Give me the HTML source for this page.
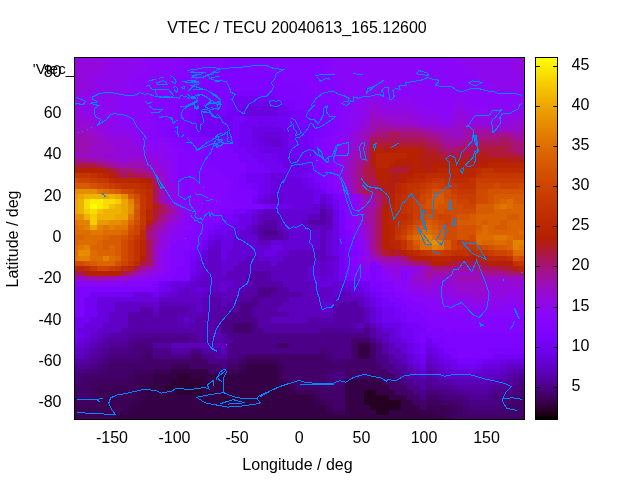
<!DOCTYPE html>
<html><head><meta charset="utf-8"><style>
html,body{margin:0;padding:0;background:#fff;width:640px;height:480px;overflow:hidden}
svg{display:block}
text{font-family:"Liberation Sans",sans-serif;font-size:16px;fill:#000}
svg{will-change:transform}
</style></head><body>
<svg width="640" height="480" viewBox="0 0 640 480">
<defs><linearGradient id="cb" x1="0" y1="1" x2="0" y2="0"><stop offset="0.00" stop-color="#000000"/><stop offset="0.01" stop-color="#1a0010"/><stop offset="0.02" stop-color="#240020"/><stop offset="0.03" stop-color="#2c0030"/><stop offset="0.04" stop-color="#33003f"/><stop offset="0.05" stop-color="#39004f"/><stop offset="0.06" stop-color="#3e005e"/><stop offset="0.07" stop-color="#43006d"/><stop offset="0.08" stop-color="#48007b"/><stop offset="0.09" stop-color="#4d0089"/><stop offset="0.10" stop-color="#510096"/><stop offset="0.11" stop-color="#5500a3"/><stop offset="0.12" stop-color="#5800af"/><stop offset="0.13" stop-color="#5c01ba"/><stop offset="0.14" stop-color="#5f01c4"/><stop offset="0.15" stop-color="#6301ce"/><stop offset="0.16" stop-color="#6601d7"/><stop offset="0.17" stop-color="#6901df"/><stop offset="0.18" stop-color="#6c01e7"/><stop offset="0.19" stop-color="#6f02ed"/><stop offset="0.20" stop-color="#7202f3"/><stop offset="0.21" stop-color="#7502f7"/><stop offset="0.22" stop-color="#7803fa"/><stop offset="0.23" stop-color="#7a03fd"/><stop offset="0.24" stop-color="#7d04fe"/><stop offset="0.25" stop-color="#8004ff"/><stop offset="0.26" stop-color="#8204fe"/><stop offset="0.27" stop-color="#8505fd"/><stop offset="0.28" stop-color="#8706fa"/><stop offset="0.29" stop-color="#8906f7"/><stop offset="0.30" stop-color="#8c07f3"/><stop offset="0.31" stop-color="#8e08ed"/><stop offset="0.32" stop-color="#9008e7"/><stop offset="0.33" stop-color="#9209df"/><stop offset="0.34" stop-color="#950ad7"/><stop offset="0.35" stop-color="#970bce"/><stop offset="0.36" stop-color="#990cc4"/><stop offset="0.37" stop-color="#9b0dba"/><stop offset="0.38" stop-color="#9d0eaf"/><stop offset="0.39" stop-color="#9f0fa3"/><stop offset="0.40" stop-color="#a11096"/><stop offset="0.41" stop-color="#a31289"/><stop offset="0.42" stop-color="#a5137b"/><stop offset="0.43" stop-color="#a7146d"/><stop offset="0.44" stop-color="#a9165e"/><stop offset="0.45" stop-color="#ab174f"/><stop offset="0.46" stop-color="#ad193f"/><stop offset="0.47" stop-color="#af1a30"/><stop offset="0.48" stop-color="#b11c20"/><stop offset="0.49" stop-color="#b31e10"/><stop offset="0.50" stop-color="#b42000"/><stop offset="0.51" stop-color="#b62200"/><stop offset="0.52" stop-color="#b82400"/><stop offset="0.53" stop-color="#ba2600"/><stop offset="0.54" stop-color="#bb2800"/><stop offset="0.55" stop-color="#bd2a00"/><stop offset="0.56" stop-color="#bf2d00"/><stop offset="0.57" stop-color="#c12f00"/><stop offset="0.58" stop-color="#c23200"/><stop offset="0.59" stop-color="#c43400"/><stop offset="0.60" stop-color="#c63700"/><stop offset="0.61" stop-color="#c73a00"/><stop offset="0.62" stop-color="#c93d00"/><stop offset="0.63" stop-color="#ca4000"/><stop offset="0.64" stop-color="#cc4300"/><stop offset="0.65" stop-color="#ce4600"/><stop offset="0.66" stop-color="#cf4900"/><stop offset="0.67" stop-color="#d14d00"/><stop offset="0.68" stop-color="#d25000"/><stop offset="0.69" stop-color="#d45400"/><stop offset="0.70" stop-color="#d55700"/><stop offset="0.71" stop-color="#d75b00"/><stop offset="0.72" stop-color="#d85f00"/><stop offset="0.73" stop-color="#da6300"/><stop offset="0.74" stop-color="#db6700"/><stop offset="0.75" stop-color="#dd6c00"/><stop offset="0.76" stop-color="#de7000"/><stop offset="0.77" stop-color="#e07400"/><stop offset="0.78" stop-color="#e17900"/><stop offset="0.79" stop-color="#e37e00"/><stop offset="0.80" stop-color="#e48300"/><stop offset="0.81" stop-color="#e68800"/><stop offset="0.82" stop-color="#e78d00"/><stop offset="0.83" stop-color="#e89200"/><stop offset="0.84" stop-color="#ea9700"/><stop offset="0.85" stop-color="#eb9d00"/><stop offset="0.86" stop-color="#eca200"/><stop offset="0.87" stop-color="#eea800"/><stop offset="0.88" stop-color="#efae00"/><stop offset="0.89" stop-color="#f1b400"/><stop offset="0.90" stop-color="#f2ba00"/><stop offset="0.91" stop-color="#f3c000"/><stop offset="0.92" stop-color="#f5c700"/><stop offset="0.93" stop-color="#f6cd00"/><stop offset="0.94" stop-color="#f7d400"/><stop offset="0.95" stop-color="#f9db00"/><stop offset="0.96" stop-color="#fae200"/><stop offset="0.97" stop-color="#fbe900"/><stop offset="0.98" stop-color="#fcf000"/><stop offset="0.99" stop-color="#fef700"/><stop offset="1.00" stop-color="#ffff00"/></linearGradient></defs>
<rect x="0" y="0" width="640" height="480" fill="#fff"/>
<text x="297" y="32.5" text-anchor="middle">VTEC / TECU 20040613_165.12600</text>
<g text-anchor="end">
<text x="61.5" y="76.7">80</text>
<text x="61.5" y="118">60</text>
<text x="61.5" y="159.4">40</text>
<text x="61.5" y="200.7">20</text>
<text x="61.5" y="242">0</text>
<text x="61.5" y="283.3">-20</text>
<text x="61.5" y="324.6">-40</text>
<text x="61.5" y="366">-60</text>
<text x="61.5" y="407.3">-80</text>
</g>
<g text-anchor="middle">
<text x="112" y="442.5">-150</text>
<text x="174.5" y="442.5">-100</text>
<text x="237" y="442.5">-50</text>
<text x="299.25" y="442.5">0</text>
<text x="361.5" y="442.5">50</text>
<text x="424" y="442.5">100</text>
<text x="486.5" y="442.5">150</text>
</g>
<text x="297.5" y="470" text-anchor="middle">Longitude / deg</text>
<text transform="translate(17.5,239) rotate(-90)" text-anchor="middle">Latitude / deg</text>
<text x="74" y="74" text-anchor="end" style="font-size:15px">'Vtec_</text>
<g shape-rendering="crispEdges">
<path fill="#9309dd" d="M75 58h3v2h-3zM78 58h6v2h-6zM84 58h6v2h-6zM90 58h7v2h-7zM97 58h6v2h-6zM519 58h5v2h-5zM75 60h3v5h-3zM78 60h6v5h-6zM84 60h6v5h-6zM90 60h7v5h-7zM97 60h6v5h-6zM519 60h5v5h-5zM75 65h3v5h-3zM78 65h6v5h-6zM84 65h6v5h-6zM90 65h7v5h-7zM97 65h6v5h-6zM519 65h5v5h-5zM75 70h3v5h-3zM78 70h6v5h-6zM84 70h6v5h-6zM90 70h7v5h-7zM75 75h3v5h-3zM78 75h6v5h-6zM84 75h6v5h-6zM75 80h3v6h-3zM78 80h6v6h-6zM84 80h6v6h-6zM75 86h3v5h-3zM78 86h6v5h-6zM84 86h6v5h-6zM75 91h3v5h-3zM75 96h3v5h-3zM75 101h3v5h-3zM370 101h6v5h-6zM75 106h3v5h-3zM376 106h6v5h-6zM75 111h3v5h-3zM382 111h7v5h-7zM389 111h6v5h-6zM395 111h6v5h-6zM401 111h6v5h-6zM407 111h6v5h-6zM457 111h6v5h-6zM75 116h3v6h-3zM78 116h6v6h-6zM84 116h6v6h-6zM364 116h6v6h-6zM413 116h7v6h-7zM463 116h6v6h-6zM519 116h5v6h-5zM90 122h7v5h-7zM420 122h6v5h-6zM426 122h6v5h-6zM432 122h6v5h-6zM451 122h6v5h-6zM469 122h7v5h-7zM476 122h6v5h-6zM482 122h6v5h-6zM488 122h6v5h-6zM494 122h6v5h-6zM500 122h7v5h-7zM507 122h6v5h-6zM97 127h6v5h-6zM358 127h6v5h-6zM103 132h6v5h-6zM351 132h7v5h-7zM109 137h6v5h-6zM115 137h6v5h-6zM121 137h7v5h-7zM351 137h7v5h-7zM115 142h6v5h-6zM121 142h7v5h-7zM115 147h6v6h-6zM121 147h7v6h-7zM128 147h6v6h-6zM134 147h6v6h-6zM345 147h6v6h-6zM103 153h6v5h-6zM109 153h6v5h-6zM115 153h6v5h-6zM121 153h7v5h-7zM128 153h6v5h-6zM134 153h6v5h-6zM140 153h6v5h-6zM146 153h7v5h-7zM121 158h7v5h-7zM146 158h7v5h-7zM153 158h6v5h-6zM153 163h6v5h-6zM159 163h6v5h-6zM159 168h6v5h-6zM165 178h6v5h-6zM165 183h6v6h-6zM165 189h6v5h-6zM345 189h6v5h-6zM165 194h6v5h-6zM358 194h6v5h-6zM165 199h6v5h-6zM358 199h6v5h-6zM358 204h6v5h-6zM177 209h7v5h-7zM358 209h6v5h-6zM177 214h7v6h-7zM358 214h6v6h-6zM171 220h6v5h-6zM358 220h6v5h-6zM165 225h6v5h-6zM165 230h6v5h-6zM159 235h6v5h-6zM159 240h6v5h-6zM364 240h6v5h-6zM159 245h6v5h-6zM364 245h6v5h-6zM153 266h6v5h-6zM389 266h6v5h-6zM395 266h6v5h-6zM413 266h7v5h-7zM146 271h7v5h-7zM395 271h6v5h-6zM413 271h7v5h-7zM128 276h6v5h-6zM413 281h7v6h-7zM420 281h6v6h-6zM432 281h6v6h-6zM438 281h6v6h-6zM444 281h7v6h-7zM488 281h6v6h-6zM494 281h6v6h-6zM500 281h7v6h-7zM507 281h6v6h-6zM519 281h5v6h-5zM420 287h6v5h-6zM426 287h6v5h-6zM438 287h6v5h-6zM444 287h7v5h-7zM451 287h6v5h-6zM488 287h6v5h-6zM494 287h6v5h-6zM500 287h7v5h-7zM507 287h6v5h-6zM513 287h6v5h-6zM451 292h6v5h-6zM457 292h6v5h-6zM463 292h6v5h-6zM469 292h7v5h-7zM482 292h6v5h-6zM488 292h6v5h-6zM494 292h6v5h-6zM500 292h7v5h-7zM519 292h5v5h-5zM469 297h7v5h-7zM476 297h6v5h-6zM482 297h6v5h-6zM519 297h5v5h-5z"/>
<path fill="#9108e6" d="M103 58h6v2h-6zM513 58h6v2h-6zM103 60h6v5h-6zM513 60h6v5h-6zM103 65h6v5h-6zM513 65h6v5h-6zM97 70h6v5h-6zM513 70h6v5h-6zM519 70h5v5h-5zM90 75h7v5h-7zM90 80h7v6h-7zM90 86h7v5h-7zM78 91h6v5h-6zM84 91h6v5h-6zM78 96h6v5h-6zM78 101h6v5h-6zM376 101h6v5h-6zM78 106h6v5h-6zM364 106h6v5h-6zM382 106h7v5h-7zM389 106h6v5h-6zM395 106h6v5h-6zM401 106h6v5h-6zM407 106h6v5h-6zM457 106h6v5h-6zM78 111h6v5h-6zM84 111h6v5h-6zM364 111h6v5h-6zM413 111h7v5h-7zM463 111h6v5h-6zM90 116h7v6h-7zM420 116h6v6h-6zM426 116h6v6h-6zM432 116h6v6h-6zM451 116h6v6h-6zM469 116h7v6h-7zM476 116h6v6h-6zM482 116h6v6h-6zM488 116h6v6h-6zM494 116h6v6h-6zM500 116h7v6h-7zM507 116h6v6h-6zM97 122h6v5h-6zM103 122h6v5h-6zM358 122h6v5h-6zM438 122h6v5h-6zM103 127h6v5h-6zM109 132h6v5h-6zM115 132h6v5h-6zM121 132h7v5h-7zM128 137h6v5h-6zM134 142h6v5h-6zM345 142h6v5h-6zM339 158h6v5h-6zM339 163h6v5h-6zM339 168h6v5h-6zM339 173h6v5h-6zM339 178h6v5h-6z"/>
<path fill="#8e08ed" d="M109 58h6v2h-6zM115 58h6v2h-6zM121 58h7v2h-7zM128 58h6v2h-6zM134 58h6v2h-6zM457 58h6v2h-6zM463 58h6v2h-6zM469 58h7v2h-7zM476 58h6v2h-6zM482 58h6v2h-6zM488 58h6v2h-6zM494 58h6v2h-6zM500 58h7v2h-7zM507 58h6v2h-6zM109 60h6v5h-6zM115 60h6v5h-6zM121 60h7v5h-7zM128 60h6v5h-6zM134 60h6v5h-6zM463 60h6v5h-6zM469 60h7v5h-7zM476 60h6v5h-6zM482 60h6v5h-6zM488 60h6v5h-6zM494 60h6v5h-6zM500 60h7v5h-7zM507 60h6v5h-6zM109 65h6v5h-6zM115 65h6v5h-6zM121 65h7v5h-7zM128 65h6v5h-6zM134 65h6v5h-6zM469 65h7v5h-7zM476 65h6v5h-6zM482 65h6v5h-6zM488 65h6v5h-6zM494 65h6v5h-6zM500 65h7v5h-7zM507 65h6v5h-6zM103 70h6v5h-6zM109 70h6v5h-6zM115 70h6v5h-6zM121 70h7v5h-7zM482 70h6v5h-6zM488 70h6v5h-6zM494 70h6v5h-6zM500 70h7v5h-7zM507 70h6v5h-6zM97 75h6v5h-6zM103 75h6v5h-6zM109 75h6v5h-6zM115 75h6v5h-6zM121 75h7v5h-7zM482 75h6v5h-6zM488 75h6v5h-6zM494 75h6v5h-6zM500 75h7v5h-7zM507 75h6v5h-6zM513 75h6v5h-6zM519 75h5v5h-5zM97 80h6v6h-6zM103 80h6v6h-6zM109 80h6v6h-6zM115 80h6v6h-6zM121 80h7v6h-7zM488 80h6v6h-6zM494 80h6v6h-6zM500 80h7v6h-7zM507 80h6v6h-6zM513 80h6v6h-6zM519 80h5v6h-5zM97 86h6v5h-6zM103 86h6v5h-6zM109 86h6v5h-6zM115 86h6v5h-6zM121 86h7v5h-7zM370 86h6v5h-6zM376 86h6v5h-6zM382 86h7v5h-7zM494 86h6v5h-6zM500 86h7v5h-7zM507 86h6v5h-6zM513 86h6v5h-6zM519 86h5v5h-5zM90 91h7v5h-7zM97 91h6v5h-6zM103 91h6v5h-6zM109 91h6v5h-6zM115 91h6v5h-6zM84 96h6v5h-6zM90 96h7v5h-7zM97 96h6v5h-6zM103 96h6v5h-6zM109 96h6v5h-6zM370 96h6v5h-6zM84 101h6v5h-6zM90 101h7v5h-7zM97 101h6v5h-6zM103 101h6v5h-6zM109 101h6v5h-6zM364 101h6v5h-6zM382 101h7v5h-7zM389 101h6v5h-6zM395 101h6v5h-6zM401 101h6v5h-6zM407 101h6v5h-6zM457 101h6v5h-6zM519 101h5v5h-5zM84 106h6v5h-6zM90 106h7v5h-7zM97 106h6v5h-6zM103 106h6v5h-6zM109 106h6v5h-6zM358 106h6v5h-6zM413 106h7v5h-7zM463 106h6v5h-6zM519 106h5v5h-5zM90 111h7v5h-7zM97 111h6v5h-6zM103 111h6v5h-6zM109 111h6v5h-6zM358 111h6v5h-6zM420 111h6v5h-6zM426 111h6v5h-6zM432 111h6v5h-6zM451 111h6v5h-6zM469 111h7v5h-7zM476 111h6v5h-6zM482 111h6v5h-6zM488 111h6v5h-6zM494 111h6v5h-6zM500 111h7v5h-7zM507 111h6v5h-6zM513 111h6v5h-6zM519 111h5v5h-5zM97 116h6v6h-6zM103 116h6v6h-6zM109 116h6v6h-6zM358 116h6v6h-6zM438 116h6v6h-6zM109 122h6v5h-6zM115 122h6v5h-6zM351 122h7v5h-7zM444 122h7v5h-7zM109 127h6v5h-6zM115 127h6v5h-6zM121 127h7v5h-7zM351 127h7v5h-7zM128 132h6v5h-6zM345 132h6v5h-6zM134 137h6v5h-6zM345 137h6v5h-6zM140 147h6v6h-6zM146 147h7v6h-7zM159 147h6v6h-6zM339 147h6v6h-6zM153 153h6v5h-6zM159 153h6v5h-6zM159 158h6v5h-6zM165 158h6v5h-6zM165 163h6v5h-6zM165 168h6v5h-6zM165 173h6v5h-6zM171 183h6v6h-6zM339 183h6v6h-6zM171 189h6v5h-6zM171 194h6v5h-6zM171 199h6v5h-6zM177 204h7v5h-7zM177 220h7v5h-7zM171 225h6v5h-6zM358 225h6v5h-6zM171 230h6v5h-6zM358 230h6v5h-6zM165 235h6v5h-6zM358 235h6v5h-6zM165 240h6v5h-6zM165 245h6v5h-6zM159 250h6v6h-6zM364 250h6v6h-6zM159 256h6v5h-6zM159 261h6v5h-6zM364 261h6v5h-6zM376 261h6v5h-6zM159 266h6v5h-6zM382 266h7v5h-7zM401 266h6v5h-6zM407 266h6v5h-6zM153 271h6v5h-6zM389 271h6v5h-6zM407 271h6v5h-6zM134 276h6v5h-6zM140 276h6v5h-6zM389 276h6v5h-6zM395 276h6v5h-6zM407 276h6v5h-6zM407 281h6v6h-6zM407 287h6v5h-6zM413 287h7v5h-7zM432 287h6v5h-6zM519 287h5v5h-5zM426 292h6v5h-6zM432 292h6v5h-6zM438 292h6v5h-6zM444 292h7v5h-7zM507 292h6v5h-6zM513 292h6v5h-6zM438 297h6v5h-6zM444 297h7v5h-7zM451 297h6v5h-6zM457 297h6v5h-6zM463 297h6v5h-6zM488 297h6v5h-6zM494 297h6v5h-6zM500 297h7v5h-7zM507 297h6v5h-6zM513 297h6v5h-6zM457 302h6v5h-6zM463 302h6v5h-6zM469 302h7v5h-7zM476 302h6v5h-6zM482 302h6v5h-6zM488 302h6v5h-6zM494 302h6v5h-6zM500 302h7v5h-7zM519 302h5v5h-5z"/>
<path fill="#8c07f3" d="M140 58h6v2h-6zM451 58h6v2h-6zM140 60h6v5h-6zM457 60h6v5h-6zM140 65h6v5h-6zM463 65h6v5h-6zM128 70h6v5h-6zM134 70h6v5h-6zM140 70h6v5h-6zM463 70h6v5h-6zM469 70h7v5h-7zM476 70h6v5h-6zM128 75h6v5h-6zM476 75h6v5h-6zM128 80h6v6h-6zM370 80h6v6h-6zM376 80h6v6h-6zM382 80h7v6h-7zM389 80h6v6h-6zM476 80h6v6h-6zM482 80h6v6h-6zM128 86h6v5h-6zM364 86h6v5h-6zM389 86h6v5h-6zM488 86h6v5h-6zM121 91h7v5h-7zM364 91h6v5h-6zM115 96h6v5h-6zM364 96h6v5h-6zM382 96h7v5h-7zM389 96h6v5h-6zM395 96h6v5h-6zM401 96h6v5h-6zM407 96h6v5h-6zM457 96h6v5h-6zM519 96h5v5h-5zM115 101h6v5h-6zM351 101h7v5h-7zM358 101h6v5h-6zM413 101h7v5h-7zM451 101h6v5h-6zM463 101h6v5h-6zM513 101h6v5h-6zM115 106h6v5h-6zM351 106h7v5h-7zM420 106h6v5h-6zM426 106h6v5h-6zM432 106h6v5h-6zM469 106h7v5h-7zM476 106h6v5h-6zM482 106h6v5h-6zM488 106h6v5h-6zM494 106h6v5h-6zM500 106h7v5h-7zM507 106h6v5h-6zM115 111h6v5h-6zM351 111h7v5h-7zM438 111h6v5h-6zM115 116h6v6h-6zM351 116h7v6h-7zM444 116h7v6h-7zM121 122h7v5h-7zM128 127h6v5h-6zM134 132h6v5h-6zM339 132h6v5h-6zM140 137h6v5h-6zM339 137h6v5h-6zM146 142h7v5h-7zM159 142h6v5h-6zM165 147h6v6h-6zM190 189h6v5h-6zM339 189h6v5h-6zM190 194h6v5h-6zM190 199h6v5h-6zM190 204h6v5h-6zM190 209h6v5h-6zM358 256h6v5h-6z"/>
<path fill="#8906f8" d="M146 58h7v2h-7zM153 58h6v2h-6zM159 58h6v2h-6zM165 58h6v2h-6zM171 58h6v2h-6zM333 58h6v2h-6zM339 58h6v2h-6zM345 58h6v2h-6zM351 58h7v2h-7zM358 58h6v2h-6zM364 58h6v2h-6zM370 58h6v2h-6zM376 58h6v2h-6zM382 58h7v2h-7zM389 58h6v2h-6zM395 58h6v2h-6zM401 58h6v2h-6zM407 58h6v2h-6zM413 58h7v2h-7zM420 58h6v2h-6zM426 58h6v2h-6zM432 58h6v2h-6zM438 58h6v2h-6zM444 58h7v2h-7zM146 60h7v5h-7zM153 60h6v5h-6zM159 60h6v5h-6zM165 60h6v5h-6zM171 60h6v5h-6zM333 60h6v5h-6zM339 60h6v5h-6zM345 60h6v5h-6zM351 60h7v5h-7zM358 60h6v5h-6zM364 60h6v5h-6zM370 60h6v5h-6zM376 60h6v5h-6zM382 60h7v5h-7zM389 60h6v5h-6zM395 60h6v5h-6zM401 60h6v5h-6zM407 60h6v5h-6zM413 60h7v5h-7zM420 60h6v5h-6zM426 60h6v5h-6zM432 60h6v5h-6zM438 60h6v5h-6zM444 60h7v5h-7zM451 60h6v5h-6zM146 65h7v5h-7zM153 65h6v5h-6zM159 65h6v5h-6zM165 65h6v5h-6zM171 65h6v5h-6zM333 65h6v5h-6zM339 65h6v5h-6zM345 65h6v5h-6zM351 65h7v5h-7zM358 65h6v5h-6zM364 65h6v5h-6zM370 65h6v5h-6zM376 65h6v5h-6zM382 65h7v5h-7zM389 65h6v5h-6zM395 65h6v5h-6zM401 65h6v5h-6zM407 65h6v5h-6zM413 65h7v5h-7zM420 65h6v5h-6zM426 65h6v5h-6zM432 65h6v5h-6zM438 65h6v5h-6zM444 65h7v5h-7zM451 65h6v5h-6zM457 65h6v5h-6zM146 70h7v5h-7zM153 70h6v5h-6zM159 70h6v5h-6zM165 70h6v5h-6zM333 70h6v5h-6zM339 70h6v5h-6zM345 70h6v5h-6zM351 70h7v5h-7zM358 70h6v5h-6zM364 70h6v5h-6zM370 70h6v5h-6zM376 70h6v5h-6zM382 70h7v5h-7zM389 70h6v5h-6zM395 70h6v5h-6zM401 70h6v5h-6zM407 70h6v5h-6zM413 70h7v5h-7zM420 70h6v5h-6zM426 70h6v5h-6zM432 70h6v5h-6zM438 70h6v5h-6zM444 70h7v5h-7zM451 70h6v5h-6zM457 70h6v5h-6zM134 75h6v5h-6zM140 75h6v5h-6zM146 75h7v5h-7zM153 75h6v5h-6zM159 75h6v5h-6zM333 75h6v5h-6zM339 75h6v5h-6zM345 75h6v5h-6zM351 75h7v5h-7zM358 75h6v5h-6zM364 75h6v5h-6zM370 75h6v5h-6zM376 75h6v5h-6zM382 75h7v5h-7zM389 75h6v5h-6zM395 75h6v5h-6zM401 75h6v5h-6zM407 75h6v5h-6zM413 75h7v5h-7zM420 75h6v5h-6zM426 75h6v5h-6zM432 75h6v5h-6zM438 75h6v5h-6zM444 75h7v5h-7zM451 75h6v5h-6zM457 75h6v5h-6zM463 75h6v5h-6zM469 75h7v5h-7zM134 80h6v6h-6zM140 80h6v6h-6zM146 80h7v6h-7zM153 80h6v6h-6zM159 80h6v6h-6zM345 80h6v6h-6zM351 80h7v6h-7zM358 80h6v6h-6zM364 80h6v6h-6zM395 80h6v6h-6zM401 80h6v6h-6zM407 80h6v6h-6zM413 80h7v6h-7zM420 80h6v6h-6zM426 80h6v6h-6zM432 80h6v6h-6zM438 80h6v6h-6zM444 80h7v6h-7zM451 80h6v6h-6zM457 80h6v6h-6zM463 80h6v6h-6zM469 80h7v6h-7zM134 86h6v5h-6zM140 86h6v5h-6zM146 86h7v5h-7zM153 86h6v5h-6zM159 86h6v5h-6zM345 86h6v5h-6zM351 86h7v5h-7zM358 86h6v5h-6zM395 86h6v5h-6zM401 86h6v5h-6zM407 86h6v5h-6zM413 86h7v5h-7zM420 86h6v5h-6zM426 86h6v5h-6zM432 86h6v5h-6zM438 86h6v5h-6zM444 86h7v5h-7zM451 86h6v5h-6zM457 86h6v5h-6zM463 86h6v5h-6zM469 86h7v5h-7zM476 86h6v5h-6zM482 86h6v5h-6zM128 91h6v5h-6zM134 91h6v5h-6zM140 91h6v5h-6zM146 91h7v5h-7zM153 91h6v5h-6zM345 91h6v5h-6zM351 91h7v5h-7zM358 91h6v5h-6zM370 91h6v5h-6zM376 91h6v5h-6zM382 91h7v5h-7zM389 91h6v5h-6zM395 91h6v5h-6zM401 91h6v5h-6zM407 91h6v5h-6zM413 91h7v5h-7zM420 91h6v5h-6zM426 91h6v5h-6zM432 91h6v5h-6zM438 91h6v5h-6zM444 91h7v5h-7zM451 91h6v5h-6zM457 91h6v5h-6zM463 91h6v5h-6zM469 91h7v5h-7zM476 91h6v5h-6zM482 91h6v5h-6zM488 91h6v5h-6zM494 91h6v5h-6zM500 91h7v5h-7zM507 91h6v5h-6zM513 91h6v5h-6zM519 91h5v5h-5zM121 96h7v5h-7zM128 96h6v5h-6zM134 96h6v5h-6zM140 96h6v5h-6zM146 96h7v5h-7zM345 96h6v5h-6zM351 96h7v5h-7zM358 96h6v5h-6zM420 96h6v5h-6zM426 96h6v5h-6zM432 96h6v5h-6zM438 96h6v5h-6zM444 96h7v5h-7zM469 96h7v5h-7zM476 96h6v5h-6zM482 96h6v5h-6zM488 96h6v5h-6zM494 96h6v5h-6zM500 96h7v5h-7zM507 96h6v5h-6zM121 101h7v5h-7zM128 101h6v5h-6zM134 101h6v5h-6zM140 101h6v5h-6zM146 101h7v5h-7zM345 101h6v5h-6zM420 101h6v5h-6zM426 101h6v5h-6zM432 101h6v5h-6zM438 101h6v5h-6zM444 101h7v5h-7zM469 101h7v5h-7zM476 101h6v5h-6zM482 101h6v5h-6zM488 101h6v5h-6zM494 101h6v5h-6zM500 101h7v5h-7zM507 101h6v5h-6zM121 106h7v5h-7zM128 106h6v5h-6zM134 106h6v5h-6zM140 106h6v5h-6zM146 106h7v5h-7zM345 106h6v5h-6zM444 106h7v5h-7zM121 111h7v5h-7zM128 111h6v5h-6zM134 111h6v5h-6zM140 111h6v5h-6zM146 111h7v5h-7zM345 111h6v5h-6zM444 111h7v5h-7zM121 116h7v6h-7zM128 116h6v6h-6zM134 116h6v6h-6zM140 116h6v6h-6zM146 116h7v6h-7zM345 116h6v6h-6zM128 122h6v5h-6zM134 122h6v5h-6zM140 122h6v5h-6zM146 122h7v5h-7zM345 122h6v5h-6zM134 127h6v5h-6zM140 127h6v5h-6zM146 127h7v5h-7zM345 127h6v5h-6zM140 132h6v5h-6zM146 132h7v5h-7zM146 137h7v5h-7zM159 137h6v5h-6zM333 137h6v5h-6zM165 142h6v5h-6zM333 142h6v5h-6zM153 147h6v6h-6zM171 147h6v6h-6zM333 147h6v6h-6zM165 153h6v5h-6zM171 153h6v5h-6zM333 153h6v5h-6zM171 158h6v5h-6zM333 158h6v5h-6zM171 163h6v5h-6zM333 163h6v5h-6zM171 168h6v5h-6zM333 168h6v5h-6zM171 173h6v5h-6zM333 173h6v5h-6zM171 178h6v5h-6zM333 178h6v5h-6zM177 183h7v6h-7zM190 183h6v6h-6zM177 189h7v5h-7zM196 189h6v5h-6zM177 194h7v5h-7zM196 194h6v5h-6zM351 194h7v5h-7zM177 199h7v5h-7zM196 199h6v5h-6zM202 199h6v5h-6zM208 199h7v5h-7zM351 199h7v5h-7zM184 204h6v5h-6zM196 204h6v5h-6zM351 204h7v5h-7zM184 209h6v5h-6zM196 209h6v5h-6zM202 209h6v5h-6zM208 209h7v5h-7zM351 209h7v5h-7zM184 214h6v6h-6zM190 214h6v6h-6zM351 214h7v6h-7zM184 220h6v5h-6zM351 220h7v5h-7zM177 225h7v5h-7zM184 225h6v5h-6zM351 225h7v5h-7zM177 230h7v5h-7zM351 230h7v5h-7zM171 235h6v5h-6zM177 235h7v5h-7zM171 240h6v5h-6zM358 240h6v5h-6zM358 245h6v5h-6zM165 250h6v6h-6zM165 256h6v5h-6zM165 261h6v5h-6zM358 261h6v5h-6zM165 266h6v5h-6zM159 271h6v5h-6zM382 271h7v5h-7zM146 276h7v5h-7zM153 276h6v5h-6zM382 276h7v5h-7zM75 281h3v6h-3zM78 281h6v6h-6zM84 281h6v6h-6zM90 281h7v6h-7zM97 281h6v6h-6zM103 281h6v6h-6zM109 281h6v6h-6zM115 281h6v6h-6zM395 281h6v6h-6zM401 281h6v6h-6zM395 287h6v5h-6zM401 287h6v5h-6zM407 292h6v5h-6zM413 292h7v5h-7zM420 292h6v5h-6zM413 297h7v5h-7zM420 297h6v5h-6zM426 297h6v5h-6zM432 297h6v5h-6zM426 302h6v5h-6zM432 302h6v5h-6zM438 302h6v5h-6zM444 302h7v5h-7zM451 302h6v5h-6zM507 302h6v5h-6zM513 302h6v5h-6zM432 307h6v5h-6zM438 307h6v5h-6zM444 307h7v5h-7zM451 307h6v5h-6zM457 307h6v5h-6zM463 307h6v5h-6zM469 307h7v5h-7zM476 307h6v5h-6zM482 307h6v5h-6zM488 307h6v5h-6zM494 307h6v5h-6zM500 307h7v5h-7zM507 307h6v5h-6zM513 307h6v5h-6zM519 307h5v5h-5z"/>
<path fill="#8605fb" d="M177 58h7v2h-7zM326 58h7v2h-7zM177 60h7v5h-7zM326 60h7v5h-7zM177 65h7v5h-7zM326 65h7v5h-7zM171 70h6v5h-6zM177 70h7v5h-7zM326 70h7v5h-7zM165 75h6v5h-6zM326 75h7v5h-7zM165 80h6v6h-6zM333 80h6v6h-6zM339 80h6v6h-6zM165 86h6v5h-6zM339 86h6v5h-6zM159 91h6v5h-6zM165 91h6v5h-6zM339 91h6v5h-6zM153 96h6v5h-6zM339 96h6v5h-6zM153 101h6v5h-6zM339 101h6v5h-6zM153 106h6v5h-6zM339 106h6v5h-6zM153 111h6v5h-6zM339 111h6v5h-6zM153 116h6v6h-6zM339 116h6v6h-6zM153 122h6v5h-6zM339 122h6v5h-6zM153 127h6v5h-6zM339 127h6v5h-6zM153 132h6v5h-6zM333 132h6v5h-6zM153 137h6v5h-6zM165 137h6v5h-6zM326 137h7v5h-7zM171 142h6v5h-6zM326 142h7v5h-7zM177 147h7v6h-7zM326 147h7v6h-7zM326 153h7v5h-7zM326 158h7v5h-7zM190 168h6v5h-6zM190 173h6v5h-6zM190 178h6v5h-6zM196 183h6v6h-6zM333 183h6v6h-6zM202 189h6v5h-6zM208 194h7v5h-7zM215 199h6v5h-6zM202 204h6v5h-6zM215 209h6v5h-6zM196 214h6v6h-6zM190 220h6v5h-6zM358 266h6v5h-6zM364 271h6v5h-6zM457 312h6v5h-6zM463 312h6v5h-6zM469 312h7v5h-7zM476 312h6v5h-6zM482 312h6v5h-6zM488 312h6v5h-6zM494 312h6v5h-6zM500 312h7v5h-7zM507 312h6v5h-6zM513 312h6v5h-6zM519 312h5v5h-5z"/>
<path fill="#8405fe" d="M184 58h6v2h-6zM190 58h6v2h-6zM196 58h6v2h-6zM202 58h6v2h-6zM208 58h7v2h-7zM215 58h6v2h-6zM221 58h6v2h-6zM227 58h6v2h-6zM233 58h6v2h-6zM239 58h7v2h-7zM246 58h6v2h-6zM252 58h6v2h-6zM258 58h6v2h-6zM264 58h7v2h-7zM271 58h6v2h-6zM277 58h6v2h-6zM283 58h6v2h-6zM289 58h6v2h-6zM295 58h7v2h-7zM302 58h6v2h-6zM308 58h6v2h-6zM314 58h6v2h-6zM320 58h6v2h-6zM184 60h6v5h-6zM190 60h6v5h-6zM196 60h6v5h-6zM202 60h6v5h-6zM208 60h7v5h-7zM215 60h6v5h-6zM246 60h6v5h-6zM252 60h6v5h-6zM258 60h6v5h-6zM264 60h7v5h-7zM271 60h6v5h-6zM277 60h6v5h-6zM283 60h6v5h-6zM289 60h6v5h-6zM295 60h7v5h-7zM302 60h6v5h-6zM308 60h6v5h-6zM314 60h6v5h-6zM320 60h6v5h-6zM184 65h6v5h-6zM190 65h6v5h-6zM196 65h6v5h-6zM202 65h6v5h-6zM208 65h7v5h-7zM246 65h6v5h-6zM252 65h6v5h-6zM258 65h6v5h-6zM264 65h7v5h-7zM271 65h6v5h-6zM277 65h6v5h-6zM283 65h6v5h-6zM289 65h6v5h-6zM295 65h7v5h-7zM302 65h6v5h-6zM308 65h6v5h-6zM314 65h6v5h-6zM320 65h6v5h-6zM184 70h6v5h-6zM190 70h6v5h-6zM196 70h6v5h-6zM202 70h6v5h-6zM277 70h6v5h-6zM283 70h6v5h-6zM289 70h6v5h-6zM295 70h7v5h-7zM302 70h6v5h-6zM308 70h6v5h-6zM314 70h6v5h-6zM320 70h6v5h-6zM171 75h6v5h-6zM177 75h7v5h-7zM184 75h6v5h-6zM190 75h6v5h-6zM196 75h6v5h-6zM283 75h6v5h-6zM289 75h6v5h-6zM295 75h7v5h-7zM302 75h6v5h-6zM308 75h6v5h-6zM314 75h6v5h-6zM320 75h6v5h-6zM171 80h6v6h-6zM177 80h7v6h-7zM184 80h6v6h-6zM190 80h6v6h-6zM308 80h6v6h-6zM314 80h6v6h-6zM320 80h6v6h-6zM326 80h7v6h-7zM171 86h6v5h-6zM177 86h7v5h-7zM184 86h6v5h-6zM308 86h6v5h-6zM314 86h6v5h-6zM320 86h6v5h-6zM326 86h7v5h-7zM333 86h6v5h-6zM171 91h6v5h-6zM314 91h6v5h-6zM320 91h6v5h-6zM326 91h7v5h-7zM333 91h6v5h-6zM159 96h6v5h-6zM165 96h6v5h-6zM171 96h6v5h-6zM320 96h6v5h-6zM326 96h7v5h-7zM333 96h6v5h-6zM159 101h6v5h-6zM165 101h6v5h-6zM171 101h6v5h-6zM326 101h7v5h-7zM333 101h6v5h-6zM159 106h6v5h-6zM165 106h6v5h-6zM171 106h6v5h-6zM333 106h6v5h-6zM159 111h6v5h-6zM165 111h6v5h-6zM171 111h6v5h-6zM333 111h6v5h-6zM159 116h6v6h-6zM165 116h6v6h-6zM171 116h6v6h-6zM333 116h6v6h-6zM159 122h6v5h-6zM165 122h6v5h-6zM333 122h6v5h-6zM159 127h6v5h-6zM333 127h6v5h-6zM159 132h6v5h-6zM171 137h6v5h-6zM320 137h6v5h-6zM177 142h7v5h-7zM320 142h6v5h-6zM184 147h6v6h-6zM190 147h6v6h-6zM196 147h6v6h-6zM320 147h6v6h-6zM177 153h7v5h-7zM184 153h6v5h-6zM190 153h6v5h-6zM196 153h6v5h-6zM320 153h6v5h-6zM177 158h7v5h-7zM184 158h6v5h-6zM190 158h6v5h-6zM196 158h6v5h-6zM320 158h6v5h-6zM177 163h7v5h-7zM184 163h6v5h-6zM196 163h6v5h-6zM177 168h7v5h-7zM184 168h6v5h-6zM196 168h6v5h-6zM202 168h6v5h-6zM208 168h7v5h-7zM326 168h7v5h-7zM177 173h7v5h-7zM184 173h6v5h-6zM196 173h6v5h-6zM202 173h6v5h-6zM208 173h7v5h-7zM326 173h7v5h-7zM177 178h7v5h-7zM184 178h6v5h-6zM196 178h6v5h-6zM202 178h6v5h-6zM208 178h7v5h-7zM215 178h6v5h-6zM221 178h6v5h-6zM326 178h7v5h-7zM184 183h6v6h-6zM208 183h7v6h-7zM215 183h6v6h-6zM221 183h6v6h-6zM184 189h6v5h-6zM208 189h7v5h-7zM215 189h6v5h-6zM221 189h6v5h-6zM333 189h6v5h-6zM184 194h6v5h-6zM221 194h6v5h-6zM345 194h6v5h-6zM184 199h6v5h-6zM221 199h6v5h-6zM345 199h6v5h-6zM208 204h7v5h-7zM215 204h6v5h-6zM221 204h6v5h-6zM227 204h6v5h-6zM233 204h6v5h-6zM345 204h6v5h-6zM345 209h6v5h-6zM208 214h7v6h-7zM345 214h6v6h-6zM196 220h6v5h-6zM345 220h6v5h-6zM196 225h6v5h-6zM345 225h6v5h-6zM184 230h6v5h-6zM190 230h6v5h-6zM196 230h6v5h-6zM184 235h6v5h-6zM351 235h7v5h-7zM177 240h7v5h-7zM184 240h6v5h-6zM351 240h7v5h-7zM171 245h6v5h-6zM177 245h7v5h-7zM184 245h6v5h-6zM351 245h7v5h-7zM171 250h6v6h-6zM177 250h7v6h-7zM358 250h6v6h-6zM171 256h6v5h-6zM177 256h7v5h-7zM171 261h6v5h-6zM177 261h7v5h-7zM351 261h7v5h-7zM370 261h6v5h-6zM171 266h6v5h-6zM376 266h6v5h-6zM165 271h6v5h-6zM171 271h6v5h-6zM358 271h6v5h-6zM376 271h6v5h-6zM401 271h6v5h-6zM159 276h6v5h-6zM165 276h6v5h-6zM364 276h6v5h-6zM376 276h6v5h-6zM401 276h6v5h-6zM121 281h7v6h-7zM128 281h6v6h-6zM134 281h6v6h-6zM140 281h6v6h-6zM146 281h7v6h-7zM382 281h7v6h-7zM389 281h6v6h-6zM382 287h7v5h-7zM389 287h6v5h-6zM395 292h6v5h-6zM401 292h6v5h-6zM401 297h6v5h-6zM407 297h6v5h-6zM407 302h6v5h-6zM413 302h7v5h-7zM420 302h6v5h-6zM413 307h7v5h-7zM420 307h6v5h-6zM426 307h6v5h-6zM420 312h6v5h-6zM426 312h6v5h-6zM432 312h6v5h-6zM438 312h6v5h-6zM444 312h7v5h-7zM426 317h6v6h-6zM432 317h6v6h-6zM438 317h6v6h-6zM444 317h7v6h-7zM451 317h6v6h-6zM457 317h6v6h-6zM463 317h6v6h-6zM469 317h7v6h-7zM476 317h6v6h-6zM482 317h6v6h-6zM488 317h6v6h-6zM494 317h6v6h-6zM500 317h7v6h-7zM507 317h6v6h-6zM513 317h6v6h-6zM519 317h5v6h-5zM432 323h6v5h-6zM438 323h6v5h-6zM444 323h7v5h-7zM457 323h6v5h-6zM463 323h6v5h-6zM469 323h7v5h-7zM476 323h6v5h-6zM482 323h6v5h-6zM488 323h6v5h-6zM494 323h6v5h-6zM500 323h7v5h-7zM507 323h6v5h-6zM513 323h6v5h-6zM519 323h5v5h-5zM444 328h7v5h-7zM457 328h6v5h-6zM463 328h6v5h-6zM469 328h7v5h-7zM476 328h6v5h-6zM482 328h6v5h-6zM488 328h6v5h-6zM494 328h6v5h-6zM500 328h7v5h-7zM507 328h6v5h-6zM513 328h6v5h-6zM519 328h5v5h-5z"/>
<path fill="#8104ff" d="M221 60h6v5h-6zM227 60h6v5h-6zM233 60h6v5h-6zM239 60h7v5h-7zM215 65h6v5h-6zM239 65h7v5h-7zM208 70h7v5h-7zM246 70h6v5h-6zM252 70h6v5h-6zM258 70h6v5h-6zM264 70h7v5h-7zM271 70h6v5h-6zM202 75h6v5h-6zM277 75h6v5h-6zM196 80h6v6h-6zM202 80h6v6h-6zM277 80h6v6h-6zM283 80h6v6h-6zM289 80h6v6h-6zM295 80h7v6h-7zM302 80h6v6h-6zM190 86h6v5h-6zM302 86h6v5h-6zM177 91h7v5h-7zM184 91h6v5h-6zM190 91h6v5h-6zM302 91h6v5h-6zM308 91h6v5h-6zM177 96h7v5h-7zM314 96h6v5h-6zM177 101h7v5h-7zM314 101h6v5h-6zM320 101h6v5h-6zM177 106h7v5h-7zM326 106h7v5h-7zM177 111h7v5h-7zM326 111h7v5h-7zM177 116h7v6h-7zM326 116h7v6h-7zM171 122h6v5h-6zM177 122h7v5h-7zM326 122h7v5h-7zM165 127h6v5h-6zM326 127h7v5h-7zM165 132h6v5h-6zM326 132h7v5h-7zM177 137h7v5h-7zM314 137h6v5h-6zM184 142h6v5h-6zM190 142h6v5h-6zM196 142h6v5h-6zM314 142h6v5h-6zM202 147h6v6h-6zM314 147h6v6h-6zM202 153h6v5h-6zM314 153h6v5h-6zM202 158h6v5h-6zM314 158h6v5h-6zM208 163h7v5h-7zM320 163h6v5h-6zM215 168h6v5h-6zM221 173h6v5h-6zM227 178h6v5h-6zM227 183h6v6h-6zM326 183h7v6h-7zM227 189h6v5h-6zM227 194h6v5h-6zM227 199h6v5h-6zM239 204h7v5h-7zM202 220h6v5h-6zM196 235h6v5h-6zM190 240h6v5h-6zM351 271h7v5h-7zM358 276h6v5h-6zM451 328h6v5h-6z"/>
<path fill="#7e04ff" d="M221 65h6v5h-6zM227 65h6v5h-6zM233 65h6v5h-6zM215 70h6v5h-6zM221 70h6v5h-6zM227 70h6v5h-6zM233 70h6v5h-6zM239 70h7v5h-7zM208 75h7v5h-7zM215 75h6v5h-6zM221 75h6v5h-6zM227 75h6v5h-6zM233 75h6v5h-6zM239 75h7v5h-7zM246 75h6v5h-6zM252 75h6v5h-6zM258 75h6v5h-6zM264 75h7v5h-7zM271 75h6v5h-6zM208 80h7v6h-7zM215 80h6v6h-6zM221 80h6v6h-6zM227 80h6v6h-6zM233 80h6v6h-6zM239 80h7v6h-7zM246 80h6v6h-6zM252 80h6v6h-6zM258 80h6v6h-6zM264 80h7v6h-7zM271 80h6v6h-6zM196 86h6v5h-6zM202 86h6v5h-6zM208 86h7v5h-7zM215 86h6v5h-6zM221 86h6v5h-6zM227 86h6v5h-6zM233 86h6v5h-6zM239 86h7v5h-7zM246 86h6v5h-6zM252 86h6v5h-6zM258 86h6v5h-6zM264 86h7v5h-7zM271 86h6v5h-6zM277 86h6v5h-6zM283 86h6v5h-6zM289 86h6v5h-6zM295 86h7v5h-7zM196 91h6v5h-6zM202 91h6v5h-6zM208 91h7v5h-7zM215 91h6v5h-6zM221 91h6v5h-6zM227 91h6v5h-6zM277 91h6v5h-6zM283 91h6v5h-6zM289 91h6v5h-6zM295 91h7v5h-7zM184 96h6v5h-6zM190 96h6v5h-6zM196 96h6v5h-6zM202 96h6v5h-6zM208 96h7v5h-7zM215 96h6v5h-6zM221 96h6v5h-6zM283 96h6v5h-6zM289 96h6v5h-6zM295 96h7v5h-7zM302 96h6v5h-6zM308 96h6v5h-6zM184 101h6v5h-6zM190 101h6v5h-6zM215 101h6v5h-6zM221 101h6v5h-6zM295 101h7v5h-7zM302 101h6v5h-6zM308 101h6v5h-6zM184 106h6v5h-6zM221 106h6v5h-6zM295 106h7v5h-7zM302 106h6v5h-6zM308 106h6v5h-6zM314 106h6v5h-6zM320 106h6v5h-6zM184 111h6v5h-6zM308 111h6v5h-6zM314 111h6v5h-6zM320 111h6v5h-6zM184 116h6v6h-6zM314 116h6v6h-6zM320 116h6v6h-6zM184 122h6v5h-6zM320 122h6v5h-6zM171 127h6v5h-6zM177 127h7v5h-7zM184 127h6v5h-6zM320 127h6v5h-6zM171 132h6v5h-6zM177 132h7v5h-7zM184 132h6v5h-6zM320 132h6v5h-6zM184 137h6v5h-6zM190 137h6v5h-6zM196 137h6v5h-6zM202 137h6v5h-6zM208 137h7v5h-7zM215 137h6v5h-6zM221 137h6v5h-6zM208 142h7v5h-7zM215 142h6v5h-6zM221 142h6v5h-6zM208 147h7v6h-7zM215 147h6v6h-6zM221 147h6v6h-6zM227 147h6v6h-6zM208 153h7v5h-7zM215 153h6v5h-6zM221 153h6v5h-6zM227 153h6v5h-6zM233 153h6v5h-6zM208 158h7v5h-7zM215 158h6v5h-6zM221 158h6v5h-6zM227 158h6v5h-6zM233 158h6v5h-6zM221 163h6v5h-6zM227 163h6v5h-6zM233 163h6v5h-6zM239 163h7v5h-7zM221 168h6v5h-6zM227 168h6v5h-6zM233 168h6v5h-6zM239 168h7v5h-7zM314 168h6v5h-6zM320 168h6v5h-6zM233 173h6v5h-6zM320 173h6v5h-6zM233 178h6v5h-6zM320 178h6v5h-6zM233 183h6v6h-6zM233 189h6v5h-6zM239 189h7v5h-7zM246 189h6v5h-6zM326 189h7v5h-7zM233 194h6v5h-6zM239 194h7v5h-7zM246 194h6v5h-6zM339 194h6v5h-6zM233 199h6v5h-6zM239 199h7v5h-7zM246 199h6v5h-6zM339 199h6v5h-6zM246 204h6v5h-6zM252 204h6v5h-6zM258 204h6v5h-6zM339 204h6v5h-6zM221 209h6v5h-6zM227 209h6v5h-6zM208 220h7v5h-7zM215 220h6v5h-6zM202 230h6v5h-6zM345 230h6v5h-6zM345 235h6v5h-6zM196 240h6v5h-6zM345 240h6v5h-6zM190 245h6v5h-6zM345 245h6v5h-6zM184 250h6v6h-6zM351 250h7v6h-7zM184 256h6v5h-6zM345 256h6v5h-6zM184 261h6v5h-6zM345 261h6v5h-6zM177 266h7v5h-7zM184 266h6v5h-6zM345 266h6v5h-6zM370 266h6v5h-6zM177 271h7v5h-7zM184 271h6v5h-6zM345 271h6v5h-6zM370 271h6v5h-6zM171 276h6v5h-6zM177 276h7v5h-7zM184 276h6v5h-6zM351 276h7v5h-7zM370 276h6v5h-6zM153 281h6v6h-6zM370 281h6v6h-6zM376 281h6v6h-6zM75 287h3v5h-3zM78 287h6v5h-6zM84 287h6v5h-6zM90 287h7v5h-7zM97 287h6v5h-6zM103 287h6v5h-6zM109 287h6v5h-6zM115 287h6v5h-6zM121 287h7v5h-7zM128 287h6v5h-6zM134 287h6v5h-6zM140 287h6v5h-6zM146 287h7v5h-7zM376 287h6v5h-6zM75 292h3v5h-3zM78 292h6v5h-6zM84 292h6v5h-6zM382 292h7v5h-7zM389 292h6v5h-6zM75 297h3v5h-3zM78 297h6v5h-6zM389 297h6v5h-6zM395 297h6v5h-6zM75 302h3v5h-3zM78 302h6v5h-6zM395 302h6v5h-6zM401 302h6v5h-6zM75 307h3v5h-3zM78 307h6v5h-6zM401 307h6v5h-6zM407 307h6v5h-6zM75 312h3v5h-3zM78 312h6v5h-6zM407 312h6v5h-6zM413 312h7v5h-7zM407 317h6v6h-6zM413 317h7v6h-7zM420 317h6v6h-6zM420 323h6v5h-6zM426 323h6v5h-6zM426 328h6v5h-6zM432 328h6v5h-6zM438 328h6v5h-6zM420 333h6v5h-6zM432 333h6v5h-6zM438 333h6v5h-6zM444 333h7v5h-7zM451 333h6v5h-6zM457 333h6v5h-6zM463 333h6v5h-6zM469 333h7v5h-7zM476 333h6v5h-6zM482 333h6v5h-6zM488 333h6v5h-6zM494 333h6v5h-6zM500 333h7v5h-7zM507 333h6v5h-6zM513 333h6v5h-6zM519 333h5v5h-5zM420 338h6v5h-6zM444 338h7v5h-7zM451 338h6v5h-6zM457 338h6v5h-6zM463 338h6v5h-6zM469 338h7v5h-7zM476 338h6v5h-6zM482 338h6v5h-6zM488 338h6v5h-6zM494 338h6v5h-6zM500 338h7v5h-7zM507 338h6v5h-6zM513 338h6v5h-6zM519 338h5v5h-5zM444 343h7v5h-7zM451 343h6v5h-6zM457 343h6v5h-6zM463 343h6v5h-6zM469 343h7v5h-7zM476 343h6v5h-6zM482 343h6v5h-6zM488 343h6v5h-6zM494 343h6v5h-6zM500 343h7v5h-7zM507 343h6v5h-6zM513 343h6v5h-6zM519 343h5v5h-5zM457 348h6v6h-6zM463 348h6v6h-6zM469 348h7v6h-7zM476 348h6v6h-6zM482 348h6v6h-6zM457 354h6v5h-6zM463 354h6v5h-6zM469 354h7v5h-7zM476 354h6v5h-6zM482 354h6v5h-6z"/>
<path fill="#7903fc" d="M233 91h6v5h-6zM239 91h7v5h-7zM246 91h6v5h-6zM252 91h6v5h-6zM258 91h6v5h-6zM264 91h7v5h-7zM271 91h6v5h-6zM227 96h6v5h-6zM277 96h6v5h-6zM196 101h6v5h-6zM202 101h6v5h-6zM208 101h7v5h-7zM227 101h6v5h-6zM283 101h6v5h-6zM289 101h6v5h-6zM190 106h6v5h-6zM215 106h6v5h-6zM227 106h6v5h-6zM289 106h6v5h-6zM190 111h6v5h-6zM221 111h6v5h-6zM295 111h7v5h-7zM302 111h6v5h-6zM190 116h6v6h-6zM190 122h6v5h-6zM314 122h6v5h-6zM190 127h6v5h-6zM314 127h6v5h-6zM190 132h6v5h-6zM314 132h6v5h-6zM227 137h6v5h-6zM239 173h7v5h-7zM308 173h6v5h-6zM239 178h7v5h-7zM314 178h6v5h-6zM246 183h6v6h-6zM320 183h6v6h-6zM252 189h6v5h-6zM264 204h7v5h-7zM208 225h7v5h-7zM202 235h6v5h-6zM196 245h6v5h-6zM190 250h6v6h-6zM345 276h6v5h-6zM153 287h6v5h-6zM426 333h6v5h-6zM432 338h6v5h-6zM438 343h6v5h-6zM444 348h7v6h-7zM494 348h6v6h-6zM500 348h7v6h-7zM507 348h6v6h-6zM513 348h6v6h-6zM519 348h5v6h-5zM451 354h6v5h-6zM488 354h6v5h-6zM457 359h6v5h-6zM463 359h6v5h-6zM469 359h7v5h-7z"/>
<path fill="#7302f5" d="M233 96h6v5h-6zM239 96h7v5h-7zM246 96h6v5h-6zM252 96h6v5h-6zM258 96h6v5h-6zM264 96h7v5h-7zM271 96h6v5h-6zM233 101h6v5h-6zM239 101h7v5h-7zM277 101h6v5h-6zM196 106h6v5h-6zM202 106h6v5h-6zM208 106h7v5h-7zM233 106h6v5h-6zM283 106h6v5h-6zM196 111h6v5h-6zM202 111h6v5h-6zM208 111h7v5h-7zM215 111h6v5h-6zM227 111h6v5h-6zM233 111h6v5h-6zM289 111h6v5h-6zM196 116h6v6h-6zM202 116h6v6h-6zM208 116h7v6h-7zM215 116h6v6h-6zM221 116h6v6h-6zM227 116h6v6h-6zM196 122h6v5h-6zM202 122h6v5h-6zM208 122h7v5h-7zM215 122h6v5h-6zM221 122h6v5h-6zM227 122h6v5h-6zM196 127h6v5h-6zM202 127h6v5h-6zM208 127h7v5h-7zM215 127h6v5h-6zM221 127h6v5h-6zM227 127h6v5h-6zM196 132h6v5h-6zM202 132h6v5h-6zM208 132h7v5h-7zM215 132h6v5h-6zM221 132h6v5h-6zM246 173h6v5h-6zM252 173h6v5h-6zM258 173h6v5h-6zM302 173h6v5h-6zM246 178h6v5h-6zM252 178h6v5h-6zM258 178h6v5h-6zM308 178h6v5h-6zM258 183h6v6h-6zM314 183h6v6h-6zM258 189h6v5h-6zM320 189h6v5h-6zM252 199h6v5h-6zM271 204h6v5h-6zM208 230h7v5h-7zM202 240h6v5h-6zM196 250h6v6h-6zM190 261h6v5h-6zM339 261h6v5h-6zM339 266h6v5h-6zM339 271h6v5h-6zM159 281h6v6h-6zM159 287h6v5h-6zM90 292h7v5h-7zM97 292h6v5h-6zM103 292h6v5h-6zM109 292h6v5h-6zM115 292h6v5h-6zM121 292h7v5h-7zM128 292h6v5h-6zM153 292h6v5h-6zM84 297h6v5h-6zM90 297h7v5h-7zM84 302h6v5h-6zM90 302h7v5h-7zM84 307h6v5h-6zM90 307h7v5h-7zM84 312h6v5h-6zM90 312h7v5h-7zM75 317h3v6h-3zM78 317h6v6h-6zM84 317h6v6h-6zM75 323h3v5h-3zM78 323h6v5h-6zM75 328h3v5h-3zM75 333h3v5h-3zM426 338h6v5h-6zM432 343h6v5h-6zM438 348h6v6h-6zM444 354h7v5h-7zM494 354h6v5h-6zM500 354h7v5h-7zM507 354h6v5h-6zM513 354h6v5h-6zM519 354h5v5h-5zM451 359h6v5h-6zM482 359h6v5h-6zM457 364h6v5h-6zM463 364h6v5h-6zM469 364h7v5h-7z"/>
<path fill="#8d07f0" d="M376 96h6v5h-6zM451 106h6v5h-6zM513 106h6v5h-6zM339 142h6v5h-6z"/>
<path fill="#8a06f5" d="M413 96h7v5h-7zM451 96h6v5h-6zM463 96h6v5h-6zM513 96h6v5h-6zM438 106h6v5h-6zM364 266h6v5h-6z"/>
<path fill="#6e02ea" d="M246 101h6v5h-6zM252 101h6v5h-6zM258 101h6v5h-6zM264 101h7v5h-7zM271 101h6v5h-6zM239 106h7v5h-7zM277 106h6v5h-6zM239 111h7v5h-7zM277 111h6v5h-6zM283 111h6v5h-6zM227 132h6v5h-6zM264 173h7v5h-7zM295 173h7v5h-7zM264 178h7v5h-7zM302 178h6v5h-6zM264 183h7v6h-7zM308 183h6v6h-6zM264 189h7v5h-7zM314 189h6v5h-6zM258 194h6v5h-6zM314 194h6v5h-6zM314 199h6v5h-6zM277 204h6v5h-6zM283 204h6v5h-6zM215 230h6v5h-6zM208 235h7v5h-7zM202 245h6v5h-6zM196 256h6v5h-6zM190 271h6v5h-6zM165 281h6v6h-6zM165 287h6v5h-6zM78 333h6v5h-6zM75 338h3v5h-3zM426 343h6v5h-6zM432 348h6v6h-6zM438 354h6v5h-6zM444 359h7v5h-7zM494 359h6v5h-6zM451 364h6v5h-6zM476 364h6v5h-6z"/>
<path fill="#6801dd" d="M246 106h6v5h-6zM252 106h6v5h-6zM258 106h6v5h-6zM264 106h7v5h-7zM271 106h6v5h-6zM246 111h6v5h-6zM252 111h6v5h-6zM258 111h6v5h-6zM264 111h7v5h-7zM271 111h6v5h-6zM264 132h7v5h-7zM271 132h6v5h-6zM277 132h6v5h-6zM258 137h6v5h-6zM264 142h7v5h-7zM271 173h6v5h-6zM277 173h6v5h-6zM283 173h6v5h-6zM271 178h6v5h-6zM277 178h6v5h-6zM283 178h6v5h-6zM289 178h6v5h-6zM295 178h7v5h-7zM271 183h6v6h-6zM277 183h6v6h-6zM283 183h6v6h-6zM289 183h6v6h-6zM295 183h7v6h-7zM271 189h6v5h-6zM277 189h6v5h-6zM283 189h6v5h-6zM289 189h6v5h-6zM295 189h7v5h-7zM302 189h6v5h-6zM308 189h6v5h-6zM264 194h7v5h-7zM283 194h6v5h-6zM289 194h6v5h-6zM295 194h7v5h-7zM302 194h6v5h-6zM308 194h6v5h-6zM258 199h6v5h-6zM283 199h6v5h-6zM289 199h6v5h-6zM295 199h7v5h-7zM302 199h6v5h-6zM308 199h6v5h-6zM295 204h7v5h-7zM302 204h6v5h-6zM215 235h6v5h-6zM208 240h7v5h-7zM202 250h6v6h-6zM196 261h6v5h-6zM333 261h6v5h-6zM196 266h6v5h-6zM333 266h6v5h-6zM196 271h6v5h-6zM333 271h6v5h-6zM190 276h6v5h-6zM333 276h6v5h-6zM171 281h6v6h-6zM177 281h7v6h-7zM184 281h6v6h-6zM320 281h6v6h-6zM326 281h7v6h-7zM171 287h6v5h-6zM196 287h6v5h-6zM134 292h6v5h-6zM140 292h6v5h-6zM146 292h7v5h-7zM159 292h6v5h-6zM97 297h6v5h-6zM103 297h6v5h-6zM109 297h6v5h-6zM115 297h6v5h-6zM121 297h7v5h-7zM128 297h6v5h-6zM134 297h6v5h-6zM140 297h6v5h-6zM146 297h7v5h-7zM153 297h6v5h-6zM97 302h6v5h-6zM103 302h6v5h-6zM109 302h6v5h-6zM97 307h6v5h-6zM103 307h6v5h-6zM109 307h6v5h-6zM97 312h6v5h-6zM103 312h6v5h-6zM90 317h7v6h-7zM97 317h6v6h-6zM103 317h6v6h-6zM84 323h6v5h-6zM90 323h7v5h-7zM97 323h6v5h-6zM78 328h6v5h-6zM84 328h6v5h-6zM90 328h7v5h-7zM84 333h6v5h-6zM78 338h6v5h-6zM75 343h3v5h-3zM426 348h6v6h-6zM432 354h6v5h-6zM438 359h6v5h-6zM507 359h6v5h-6zM513 359h6v5h-6zM519 359h5v5h-5zM444 364h7v5h-7zM482 364h6v5h-6zM488 364h6v5h-6zM494 364h6v5h-6zM457 369h6v5h-6zM463 369h6v5h-6zM469 369h7v5h-7z"/>
<path fill="#950ad4" d="M370 106h6v5h-6zM376 111h6v5h-6zM395 116h6v6h-6zM401 116h6v6h-6zM407 116h6v6h-6zM457 116h6v6h-6zM75 122h3v5h-3zM78 122h6v5h-6zM84 122h6v5h-6zM364 122h6v5h-6zM413 122h7v5h-7zM463 122h6v5h-6zM513 122h6v5h-6zM90 127h7v5h-7zM97 132h6v5h-6zM103 137h6v5h-6zM109 142h6v5h-6zM351 142h7v5h-7zM345 153h6v5h-6zM345 183h6v6h-6z"/>
<path fill="#980bca" d="M370 111h6v5h-6zM382 116h7v6h-7zM395 122h6v5h-6zM401 122h6v5h-6zM407 122h6v5h-6zM457 122h6v5h-6zM519 122h5v5h-5zM75 127h3v5h-3zM78 127h6v5h-6zM84 127h6v5h-6zM364 127h6v5h-6zM432 127h6v5h-6zM438 127h6v5h-6zM444 127h7v5h-7zM451 127h6v5h-6zM457 127h6v5h-6zM494 127h6v5h-6zM500 127h7v5h-7zM507 127h6v5h-6zM513 127h6v5h-6zM519 127h5v5h-5zM90 132h7v5h-7zM358 132h6v5h-6zM451 132h6v5h-6zM457 132h6v5h-6zM97 137h6v5h-6zM358 137h6v5h-6zM97 142h6v5h-6zM90 147h7v6h-7zM97 147h6v6h-6zM103 147h6v6h-6zM109 147h6v6h-6zM351 147h7v6h-7zM75 153h3v5h-3zM78 153h6v5h-6zM84 153h6v5h-6zM90 153h7v5h-7zM97 153h6v5h-6zM109 158h6v5h-6zM115 158h6v5h-6zM128 158h6v5h-6zM134 158h6v5h-6zM140 158h6v5h-6zM345 158h6v5h-6zM146 163h7v5h-7zM345 163h6v5h-6zM153 168h6v5h-6zM345 168h6v5h-6zM159 173h6v5h-6zM345 173h6v5h-6zM159 178h6v5h-6zM345 178h6v5h-6zM171 204h6v5h-6zM171 214h6v6h-6zM165 220h6v5h-6zM364 225h6v5h-6zM159 230h6v5h-6zM364 230h6v5h-6zM364 235h6v5h-6zM153 245h6v5h-6zM153 250h6v6h-6zM153 256h6v5h-6zM370 256h6v5h-6zM153 261h6v5h-6zM382 261h7v5h-7zM389 261h6v5h-6zM395 261h6v5h-6zM420 266h6v5h-6zM140 271h6v5h-6zM420 271h6v5h-6zM457 271h6v5h-6zM463 271h6v5h-6zM469 271h7v5h-7zM75 276h3v5h-3zM78 276h6v5h-6zM115 276h6v5h-6zM121 276h7v5h-7zM413 276h7v5h-7zM420 276h6v5h-6zM432 276h6v5h-6zM438 276h6v5h-6zM444 276h7v5h-7zM451 276h6v5h-6zM482 276h6v5h-6zM488 276h6v5h-6zM494 276h6v5h-6zM500 276h7v5h-7zM507 276h6v5h-6zM513 276h6v5h-6zM519 276h5v5h-5zM426 281h6v6h-6zM451 281h6v6h-6zM457 281h6v6h-6zM463 281h6v6h-6zM469 281h7v6h-7zM476 281h6v6h-6zM482 281h6v6h-6zM513 281h6v6h-6zM457 287h6v5h-6zM463 287h6v5h-6zM469 287h7v5h-7zM476 287h6v5h-6zM482 287h6v5h-6zM476 292h6v5h-6z"/>
<path fill="#7803fb" d="M233 116h6v6h-6zM239 116h7v6h-7zM289 116h6v6h-6zM295 116h7v6h-7zM302 116h6v6h-6zM308 116h6v6h-6zM233 122h6v5h-6zM289 122h6v5h-6zM295 122h7v5h-7zM302 122h6v5h-6zM308 122h6v5h-6zM233 127h6v5h-6zM302 127h6v5h-6zM308 127h6v5h-6zM233 132h6v5h-6zM302 132h6v5h-6zM308 132h6v5h-6zM233 137h6v5h-6zM308 137h6v5h-6zM233 142h6v5h-6zM308 142h6v5h-6zM233 147h6v6h-6zM239 147h7v6h-7zM239 153h7v5h-7zM246 153h6v5h-6zM239 158h7v5h-7zM246 158h6v5h-6zM252 158h6v5h-6zM246 163h6v5h-6zM252 163h6v5h-6zM258 163h6v5h-6zM246 168h6v5h-6zM252 168h6v5h-6zM258 168h6v5h-6zM264 168h7v5h-7zM333 194h6v5h-6zM233 209h6v5h-6zM239 209h7v5h-7zM339 209h6v5h-6zM221 214h6v6h-6zM227 214h6v6h-6zM339 214h6v6h-6zM221 220h6v5h-6zM339 220h6v5h-6zM339 225h6v5h-6zM339 230h6v5h-6zM339 235h6v5h-6zM339 240h6v5h-6zM345 250h6v6h-6zM370 287h6v5h-6zM376 292h6v5h-6zM382 297h7v5h-7zM382 302h7v5h-7zM389 302h6v5h-6zM395 307h6v5h-6zM395 312h6v5h-6zM401 312h6v5h-6zM401 317h6v6h-6zM407 323h6v5h-6zM413 323h7v5h-7zM413 328h7v5h-7zM420 328h6v5h-6zM413 333h7v5h-7zM413 338h7v5h-7zM420 343h6v5h-6zM420 348h6v6h-6z"/>
<path fill="#7202f2" d="M246 116h6v6h-6zM252 116h6v6h-6zM258 116h6v6h-6zM264 116h7v6h-7zM271 116h6v6h-6zM277 116h6v6h-6zM283 116h6v6h-6zM239 122h7v5h-7zM246 122h6v5h-6zM252 122h6v5h-6zM277 122h6v5h-6zM283 122h6v5h-6zM239 127h7v5h-7zM246 127h6v5h-6zM283 127h6v5h-6zM289 127h6v5h-6zM295 127h7v5h-7zM239 132h7v5h-7zM246 132h6v5h-6zM289 132h6v5h-6zM295 132h7v5h-7zM239 137h7v5h-7zM246 137h6v5h-6zM289 137h6v5h-6zM295 137h7v5h-7zM302 137h6v5h-6zM239 142h7v5h-7zM246 142h6v5h-6zM289 142h6v5h-6zM295 142h7v5h-7zM302 142h6v5h-6zM246 147h6v6h-6zM252 147h6v6h-6zM289 147h6v6h-6zM295 147h7v6h-7zM302 147h6v6h-6zM308 147h6v6h-6zM252 153h6v5h-6zM258 153h6v5h-6zM264 153h7v5h-7zM289 153h6v5h-6zM295 153h7v5h-7zM302 153h6v5h-6zM308 153h6v5h-6zM258 158h6v5h-6zM264 158h7v5h-7zM271 158h6v5h-6zM295 158h7v5h-7zM302 158h6v5h-6zM308 158h6v5h-6zM264 163h7v5h-7zM271 163h6v5h-6zM277 163h6v5h-6zM302 163h6v5h-6zM308 163h6v5h-6zM271 168h6v5h-6zM277 168h6v5h-6zM283 168h6v5h-6zM308 168h6v5h-6zM333 199h6v5h-6zM333 204h6v5h-6zM246 209h6v5h-6zM233 214h6v6h-6zM227 220h6v5h-6zM233 220h6v5h-6zM221 225h6v5h-6zM227 225h6v5h-6zM221 230h6v5h-6zM339 245h6v5h-6zM339 250h6v6h-6zM358 281h6v6h-6zM364 281h6v6h-6zM364 287h6v5h-6zM370 292h6v5h-6zM376 297h6v5h-6zM376 302h6v5h-6zM382 307h7v5h-7zM389 307h6v5h-6zM382 312h7v5h-7zM389 312h6v5h-6zM382 317h7v6h-7zM389 317h6v6h-6zM395 317h6v6h-6zM401 323h6v5h-6zM401 328h6v5h-6zM407 328h6v5h-6zM401 333h6v5h-6zM407 333h6v5h-6zM407 338h6v5h-6zM413 343h7v5h-7zM413 348h7v6h-7zM420 354h6v5h-6zM420 359h6v5h-6z"/>
<path fill="#9a0cbe" d="M370 116h6v6h-6zM389 122h6v5h-6zM75 132h3v5h-3zM78 132h6v5h-6zM84 132h6v5h-6zM90 137h7v5h-7zM358 142h6v5h-6zM351 153h7v5h-7z"/>
<path fill="#990cc4" d="M376 116h6v6h-6z"/>
<path fill="#970bcf" d="M389 116h6v6h-6z"/>
<path fill="#9209e2" d="M513 116h6v6h-6zM364 256h6v5h-6z"/>
<path fill="#6f02ec" d="M258 122h6v5h-6zM264 122h7v5h-7zM271 122h6v5h-6zM252 142h6v5h-6zM258 147h6v6h-6zM271 153h6v5h-6zM277 158h6v5h-6z"/>
<path fill="#9d0eb2" d="M370 122h6v5h-6zM376 122h6v5h-6zM382 122h7v5h-7zM370 127h6v5h-6zM420 127h6v5h-6zM426 127h6v5h-6zM463 127h6v5h-6zM469 127h7v5h-7zM476 127h6v5h-6zM482 127h6v5h-6zM488 127h6v5h-6zM364 132h6v5h-6zM438 132h6v5h-6zM444 132h7v5h-7zM463 132h6v5h-6zM513 132h6v5h-6zM519 132h5v5h-5zM75 137h3v5h-3zM78 137h6v5h-6zM84 137h6v5h-6zM364 137h6v5h-6zM444 137h7v5h-7zM451 137h6v5h-6zM457 137h6v5h-6zM75 142h3v5h-3zM78 142h6v5h-6zM84 142h6v5h-6zM75 147h3v6h-3zM78 147h6v6h-6zM84 147h6v6h-6zM358 147h6v6h-6zM90 158h7v5h-7zM97 158h6v5h-6zM103 158h6v5h-6zM351 158h7v5h-7zM115 163h6v5h-6zM121 163h7v5h-7zM128 163h6v5h-6zM134 163h6v5h-6zM140 163h6v5h-6zM146 168h7v5h-7zM153 173h6v5h-6zM159 183h6v6h-6zM159 189h6v5h-6zM351 189h7v5h-7zM159 194h6v5h-6zM364 194h6v5h-6zM159 199h6v5h-6zM364 199h6v5h-6zM370 199h6v5h-6zM364 204h6v5h-6zM370 204h6v5h-6zM171 209h6v5h-6zM364 209h6v5h-6zM165 214h6v6h-6zM364 214h6v6h-6zM364 220h6v5h-6zM159 225h6v5h-6zM153 230h6v5h-6zM153 235h6v5h-6zM153 240h6v5h-6zM370 250h6v6h-6zM376 256h6v5h-6zM401 261h6v5h-6zM146 266h7v5h-7zM426 266h6v5h-6zM134 271h6v5h-6zM432 271h6v5h-6zM438 271h6v5h-6zM444 271h7v5h-7zM451 271h6v5h-6zM476 271h6v5h-6zM84 276h6v5h-6zM90 276h7v5h-7zM103 276h6v5h-6zM109 276h6v5h-6zM426 276h6v5h-6zM457 276h6v5h-6zM463 276h6v5h-6zM469 276h7v5h-7zM476 276h6v5h-6z"/>
<path fill="#6b01e5" d="M252 127h6v5h-6zM258 127h6v5h-6zM264 127h7v5h-7zM271 127h6v5h-6zM277 127h6v5h-6zM252 132h6v5h-6zM258 132h6v5h-6zM283 132h6v5h-6zM252 137h6v5h-6zM283 137h6v5h-6zM258 142h6v5h-6zM283 142h6v5h-6zM264 147h7v6h-7zM271 147h6v6h-6zM277 147h6v6h-6zM283 147h6v6h-6zM277 153h6v5h-6zM283 153h6v5h-6zM283 158h6v5h-6zM289 158h6v5h-6zM283 163h6v5h-6zM289 163h6v5h-6zM295 163h7v5h-7zM289 168h6v5h-6zM295 168h7v5h-7zM302 168h6v5h-6zM326 194h7v5h-7zM326 199h7v5h-7zM252 209h6v5h-6zM333 209h6v5h-6zM239 214h7v6h-7zM246 214h6v6h-6zM333 214h6v6h-6zM239 220h7v5h-7zM246 220h6v5h-6zM333 220h6v5h-6zM233 225h6v5h-6zM239 225h7v5h-7zM333 225h6v5h-6zM227 230h6v5h-6zM233 230h6v5h-6zM333 230h6v5h-6zM221 235h6v5h-6zM227 235h6v5h-6zM333 235h6v5h-6zM221 240h6v5h-6zM227 240h6v5h-6zM333 240h6v5h-6zM221 245h6v5h-6zM227 245h6v5h-6zM271 245h6v5h-6zM277 245h6v5h-6zM333 245h6v5h-6zM221 250h6v6h-6zM264 250h7v6h-7zM271 250h6v6h-6zM333 250h6v6h-6zM221 256h6v5h-6zM314 276h6v5h-6zM345 281h6v6h-6zM351 281h7v6h-7zM351 287h7v5h-7zM358 287h6v5h-6zM364 292h6v5h-6zM370 297h6v5h-6zM370 302h6v5h-6zM376 307h6v5h-6zM376 312h6v5h-6zM376 317h6v6h-6zM382 323h7v5h-7zM389 323h6v5h-6zM395 323h6v5h-6zM395 328h6v5h-6zM395 333h6v5h-6zM401 338h6v5h-6zM407 343h6v5h-6zM407 348h6v6h-6zM413 354h7v5h-7zM413 359h7v5h-7zM420 364h6v5h-6z"/>
<path fill="#a11097" d="M376 127h6v5h-6zM382 127h7v5h-7zM389 127h6v5h-6zM395 127h6v5h-6zM401 127h6v5h-6zM407 127h6v5h-6zM413 127h7v5h-7zM370 132h6v5h-6zM426 132h6v5h-6zM432 132h6v5h-6zM469 132h7v5h-7zM476 132h6v5h-6zM482 132h6v5h-6zM488 132h6v5h-6zM494 132h6v5h-6zM500 132h7v5h-7zM507 132h6v5h-6zM438 137h6v5h-6zM463 137h6v5h-6zM469 137h7v5h-7zM513 137h6v5h-6zM519 137h5v5h-5zM444 142h7v5h-7zM451 142h6v5h-6zM457 142h6v5h-6zM75 158h3v5h-3zM78 158h6v5h-6zM84 158h6v5h-6zM358 158h6v5h-6zM109 163h6v5h-6zM134 168h6v5h-6zM140 168h6v5h-6zM370 194h6v5h-6zM165 204h6v5h-6zM370 209h6v5h-6zM370 214h6v6h-6zM159 220h6v5h-6zM370 220h6v5h-6zM153 225h6v5h-6zM370 225h6v5h-6zM370 230h6v5h-6zM370 235h6v5h-6zM370 240h6v5h-6zM370 245h6v5h-6zM382 256h7v5h-7zM389 256h6v5h-6zM395 256h6v5h-6zM407 261h6v5h-6zM140 266h6v5h-6zM451 266h6v5h-6zM457 266h6v5h-6zM463 266h6v5h-6zM469 266h7v5h-7zM426 271h6v5h-6zM482 271h6v5h-6zM488 271h6v5h-6zM494 271h6v5h-6zM500 271h7v5h-7zM97 276h6v5h-6z"/>
<path fill="#a61379" d="M376 132h6v5h-6zM382 132h7v5h-7zM401 132h6v5h-6zM407 132h6v5h-6zM413 132h7v5h-7zM420 132h6v5h-6zM426 137h6v5h-6zM432 137h6v5h-6zM476 137h6v5h-6zM482 137h6v5h-6zM488 137h6v5h-6zM494 137h6v5h-6zM507 137h6v5h-6zM438 142h6v5h-6zM463 142h6v5h-6zM469 142h7v5h-7zM513 142h6v5h-6zM519 142h5v5h-5zM444 147h7v6h-7zM451 147h6v6h-6zM513 147h6v6h-6zM519 147h5v6h-5zM364 153h6v5h-6zM103 163h6v5h-6zM121 168h7v5h-7zM128 168h6v5h-6zM358 168h6v5h-6zM146 173h7v5h-7zM358 173h6v5h-6zM153 178h6v5h-6zM358 178h6v5h-6zM358 183h6v6h-6zM358 189h6v5h-6zM370 189h6v5h-6zM376 194h6v5h-6zM376 199h6v5h-6zM376 204h6v5h-6zM165 209h6v5h-6zM159 214h6v6h-6zM153 220h6v5h-6zM146 230h7v5h-7zM146 235h7v5h-7zM376 250h6v6h-6zM401 256h6v5h-6zM413 261h7v5h-7zM420 261h6v5h-6zM432 266h6v5h-6zM438 266h6v5h-6zM444 266h7v5h-7zM476 266h6v5h-6zM128 271h6v5h-6zM507 271h6v5h-6zM513 271h6v5h-6z"/>
<path fill="#aa1659" d="M389 132h6v5h-6zM395 132h6v5h-6zM370 137h6v5h-6zM376 137h6v5h-6zM382 137h7v5h-7zM389 137h6v5h-6zM395 137h6v5h-6zM401 137h6v5h-6zM407 137h6v5h-6zM413 137h7v5h-7zM420 137h6v5h-6zM500 137h7v5h-7zM426 142h6v5h-6zM432 142h6v5h-6zM476 142h6v5h-6zM482 142h6v5h-6zM488 142h6v5h-6zM494 142h6v5h-6zM500 142h7v5h-7zM507 142h6v5h-6zM438 147h6v6h-6zM457 147h6v6h-6zM463 147h6v6h-6zM469 147h7v6h-7zM507 147h6v6h-6zM519 153h5v5h-5zM75 163h3v5h-3zM97 163h6v5h-6zM364 163h6v5h-6zM115 168h6v5h-6zM121 173h7v5h-7zM134 173h6v5h-6zM140 173h6v5h-6zM370 178h6v5h-6zM153 183h6v6h-6zM370 183h6v6h-6zM153 189h6v5h-6zM376 189h6v5h-6zM153 194h6v5h-6zM153 199h6v5h-6zM159 204h6v5h-6zM159 209h6v5h-6zM376 209h6v5h-6zM376 214h6v6h-6zM376 220h6v5h-6zM146 225h7v5h-7zM376 225h6v5h-6zM376 230h6v5h-6zM376 235h6v5h-6zM146 240h7v5h-7zM376 240h6v5h-6zM146 245h7v5h-7zM376 245h6v5h-6zM146 250h7v6h-7zM146 256h7v5h-7zM146 261h7v5h-7zM457 261h6v5h-6zM463 261h6v5h-6zM469 261h7v5h-7zM134 266h6v5h-6zM482 266h6v5h-6zM488 266h6v5h-6zM494 266h6v5h-6zM75 271h3v5h-3zM78 271h6v5h-6zM121 271h7v5h-7zM519 271h5v5h-5z"/>
<path fill="#6401d3" d="M264 137h7v5h-7zM271 137h6v5h-6zM277 137h6v5h-6zM271 142h6v5h-6zM277 142h6v5h-6zM320 194h6v5h-6zM320 199h6v5h-6zM326 204h7v5h-7zM258 209h6v5h-6zM277 209h6v5h-6zM283 209h6v5h-6zM289 209h6v5h-6zM295 209h7v5h-7zM302 209h6v5h-6zM308 209h6v5h-6zM314 209h6v5h-6zM252 214h6v6h-6zM283 214h6v6h-6zM289 214h6v6h-6zM295 214h7v6h-7zM302 214h6v6h-6zM252 220h6v5h-6zM283 220h6v5h-6zM289 220h6v5h-6zM295 220h7v5h-7zM246 225h6v5h-6zM283 225h6v5h-6zM289 225h6v5h-6zM295 225h7v5h-7zM302 225h6v5h-6zM239 230h7v5h-7zM246 230h6v5h-6zM289 230h6v5h-6zM295 230h7v5h-7zM302 230h6v5h-6zM308 230h6v5h-6zM314 230h6v5h-6zM326 230h7v5h-7zM233 235h6v5h-6zM239 235h7v5h-7zM246 235h6v5h-6zM252 235h6v5h-6zM289 235h6v5h-6zM295 235h7v5h-7zM302 235h6v5h-6zM308 235h6v5h-6zM314 235h6v5h-6zM326 235h7v5h-7zM233 240h6v5h-6zM239 240h7v5h-7zM246 240h6v5h-6zM252 240h6v5h-6zM271 240h6v5h-6zM277 240h6v5h-6zM283 240h6v5h-6zM289 240h6v5h-6zM295 240h7v5h-7zM302 240h6v5h-6zM308 240h6v5h-6zM314 240h6v5h-6zM326 240h7v5h-7zM233 245h6v5h-6zM239 245h7v5h-7zM246 245h6v5h-6zM252 245h6v5h-6zM258 245h6v5h-6zM264 245h7v5h-7zM283 245h6v5h-6zM289 245h6v5h-6zM295 245h7v5h-7zM302 245h6v5h-6zM308 245h6v5h-6zM314 245h6v5h-6zM326 245h7v5h-7zM227 250h6v6h-6zM233 250h6v6h-6zM239 250h7v6h-7zM246 250h6v6h-6zM252 250h6v6h-6zM258 250h6v6h-6zM277 250h6v6h-6zM283 250h6v6h-6zM326 250h7v6h-7zM227 256h6v5h-6zM233 256h6v5h-6zM239 256h7v5h-7zM258 256h6v5h-6zM264 256h7v5h-7zM271 256h6v5h-6zM277 256h6v5h-6zM221 261h6v5h-6zM227 261h6v5h-6zM233 261h6v5h-6zM271 261h6v5h-6zM314 261h6v5h-6zM221 266h6v5h-6zM227 266h6v5h-6zM308 266h6v5h-6zM314 266h6v5h-6zM221 271h6v5h-6zM308 271h6v5h-6zM314 271h6v5h-6zM308 276h6v5h-6zM221 281h6v6h-6zM227 281h6v6h-6zM314 281h6v6h-6zM333 281h6v6h-6zM339 281h6v6h-6zM221 287h6v5h-6zM314 287h6v5h-6zM333 287h6v5h-6zM339 287h6v5h-6zM345 287h6v5h-6zM333 292h6v5h-6zM351 292h7v5h-7zM358 292h6v5h-6zM364 297h6v5h-6zM320 302h6v5h-6zM326 302h7v5h-7zM364 302h6v5h-6zM370 307h6v5h-6zM370 312h6v5h-6zM370 317h6v6h-6zM376 323h6v5h-6zM382 328h7v5h-7zM389 328h6v5h-6zM389 333h6v5h-6zM389 338h6v5h-6zM395 338h6v5h-6zM395 343h6v5h-6zM401 343h6v5h-6zM401 348h6v6h-6zM407 354h6v5h-6zM407 359h6v5h-6zM413 364h7v5h-7zM420 369h6v5h-6z"/>
<path fill="#990cc5" d="M90 142h7v5h-7z"/>
<path fill="#970bce" d="M103 142h6v5h-6z"/>
<path fill="#9209e1" d="M128 142h6v5h-6z"/>
<path fill="#8d07ef" d="M140 142h6v5h-6z"/>
<path fill="#8806f9" d="M153 142h6v5h-6z"/>
<path fill="#7f04ff" d="M202 142h6v5h-6zM215 163h6v5h-6zM314 163h6v5h-6zM227 173h6v5h-6zM202 225h6v5h-6z"/>
<path fill="#7b03fe" d="M227 142h6v5h-6zM314 173h6v5h-6zM239 183h7v6h-7zM438 338h6v5h-6zM451 348h6v6h-6zM488 348h6v6h-6z"/>
<path fill="#a0109e" d="M364 142h6v5h-6z"/>
<path fill="#ae1a37" d="M370 142h6v5h-6zM376 142h6v5h-6zM382 142h7v5h-7zM389 142h6v5h-6zM395 142h6v5h-6zM401 142h6v5h-6zM407 142h6v5h-6zM413 142h7v5h-7zM420 142h6v5h-6zM426 147h6v6h-6zM432 147h6v6h-6zM476 147h6v6h-6zM482 147h6v6h-6zM488 147h6v6h-6zM494 147h6v6h-6zM500 147h7v6h-7zM438 153h6v5h-6zM444 153h7v5h-7zM451 153h6v5h-6zM457 153h6v5h-6zM463 153h6v5h-6zM469 153h7v5h-7zM488 153h6v5h-6zM494 153h6v5h-6zM500 153h7v5h-7zM507 153h6v5h-6zM513 153h6v5h-6zM78 163h6v5h-6zM84 163h6v5h-6zM90 163h7v5h-7zM109 168h6v5h-6zM370 168h6v5h-6zM389 168h6v5h-6zM395 168h6v5h-6zM401 168h6v5h-6zM115 173h6v5h-6zM128 173h6v5h-6zM370 173h6v5h-6zM376 183h6v6h-6zM364 189h6v5h-6zM382 194h7v5h-7zM382 199h7v5h-7zM153 209h6v5h-6zM153 214h6v6h-6zM382 250h7v6h-7zM395 250h6v6h-6zM407 256h6v5h-6zM140 261h6v5h-6zM426 261h6v5h-6zM451 261h6v5h-6zM476 261h6v5h-6zM482 261h6v5h-6zM500 266h7v5h-7zM507 266h6v5h-6z"/>
<path fill="#a31288" d="M364 147h6v6h-6zM358 163h6v5h-6z"/>
<path fill="#b21e14" d="M370 147h6v6h-6zM382 147h7v6h-7zM420 147h6v6h-6zM370 153h6v5h-6zM420 153h6v5h-6zM426 153h6v5h-6zM432 153h6v5h-6zM476 153h6v5h-6zM482 153h6v5h-6zM370 158h6v5h-6zM420 158h6v5h-6zM426 158h6v5h-6zM432 158h6v5h-6zM438 158h6v5h-6zM444 158h7v5h-7zM451 158h6v5h-6zM457 158h6v5h-6zM463 158h6v5h-6zM469 158h7v5h-7zM476 158h6v5h-6zM482 158h6v5h-6zM507 158h6v5h-6zM513 158h6v5h-6zM519 158h5v5h-5zM370 163h6v5h-6zM395 163h6v5h-6zM401 163h6v5h-6zM407 163h6v5h-6zM420 163h6v5h-6zM426 163h6v5h-6zM457 163h6v5h-6zM463 163h6v5h-6zM469 163h7v5h-7zM103 168h6v5h-6zM407 168h6v5h-6zM426 168h6v5h-6zM389 173h6v5h-6zM395 173h6v5h-6zM146 178h7v5h-7zM376 178h6v5h-6zM389 178h6v5h-6zM395 178h6v5h-6zM382 183h7v6h-7zM389 183h6v6h-6zM382 189h7v5h-7zM389 189h6v5h-6zM153 204h6v5h-6zM382 204h7v5h-7zM389 250h6v6h-6zM469 256h7v5h-7zM444 261h7v5h-7zM500 261h7v5h-7zM84 271h6v5h-6z"/>
<path fill="#b62200" d="M376 147h6v6h-6zM389 147h6v6h-6zM395 147h6v6h-6zM401 147h6v6h-6zM407 147h6v6h-6zM413 147h7v6h-7zM407 153h6v5h-6zM413 153h7v5h-7zM395 158h6v5h-6zM401 158h6v5h-6zM407 158h6v5h-6zM413 158h7v5h-7zM488 158h6v5h-6zM494 158h6v5h-6zM500 158h7v5h-7zM389 163h6v5h-6zM413 163h7v5h-7zM432 163h6v5h-6zM438 163h6v5h-6zM444 163h7v5h-7zM451 163h6v5h-6zM476 163h6v5h-6zM482 163h6v5h-6zM75 168h3v5h-3zM78 168h6v5h-6zM84 168h6v5h-6zM90 168h7v5h-7zM97 168h6v5h-6zM376 168h6v5h-6zM382 168h7v5h-7zM413 168h7v5h-7zM420 168h6v5h-6zM432 168h6v5h-6zM109 173h6v5h-6zM376 173h6v5h-6zM382 173h7v5h-7zM401 173h6v5h-6zM407 173h6v5h-6zM140 178h6v5h-6zM382 178h7v5h-7zM401 178h6v5h-6zM389 194h6v5h-6zM389 199h6v5h-6zM382 209h7v5h-7zM382 214h7v6h-7zM146 220h7v5h-7zM382 220h7v5h-7zM382 225h7v5h-7zM382 230h7v5h-7zM382 235h7v5h-7zM382 240h7v5h-7zM382 245h7v5h-7zM389 245h6v5h-6zM401 250h6v6h-6zM140 256h6v5h-6zM413 256h7v5h-7zM420 256h6v5h-6zM426 256h6v5h-6zM451 256h6v5h-6zM457 256h6v5h-6zM463 256h6v5h-6zM432 261h6v5h-6zM438 261h6v5h-6zM488 261h6v5h-6zM494 261h6v5h-6zM507 261h6v5h-6zM513 266h6v5h-6zM90 271h7v5h-7zM97 271h6v5h-6zM103 271h6v5h-6zM109 271h6v5h-6zM115 271h6v5h-6z"/>
<path fill="#8f08e9" d="M339 153h6v5h-6z"/>
<path fill="#9f0fa5" d="M358 153h6v5h-6zM351 168h7v5h-7zM351 173h7v5h-7zM351 178h7v5h-7z"/>
<path fill="#ba2600" d="M376 153h6v5h-6zM382 153h7v5h-7zM389 153h6v5h-6zM395 153h6v5h-6zM401 153h6v5h-6zM376 158h6v5h-6zM382 158h7v5h-7zM389 158h6v5h-6zM376 163h6v5h-6zM382 163h7v5h-7zM488 163h6v5h-6zM494 163h6v5h-6zM500 163h7v5h-7zM507 163h6v5h-6zM513 163h6v5h-6zM519 163h5v5h-5zM438 168h6v5h-6zM444 168h7v5h-7zM451 168h6v5h-6zM457 168h6v5h-6zM463 168h6v5h-6zM469 168h7v5h-7zM103 173h6v5h-6zM413 173h7v5h-7zM420 173h6v5h-6zM451 173h6v5h-6zM457 173h6v5h-6zM463 173h6v5h-6zM469 173h7v5h-7zM115 178h6v5h-6zM121 178h7v5h-7zM128 178h6v5h-6zM134 178h6v5h-6zM407 178h6v5h-6zM146 183h7v6h-7zM395 183h6v6h-6zM395 189h6v5h-6zM389 204h6v5h-6zM146 209h7v5h-7zM389 209h6v5h-6zM146 214h7v6h-7zM389 214h6v6h-6zM389 220h6v5h-6zM389 225h6v5h-6zM389 230h6v5h-6zM389 235h6v5h-6zM140 240h6v5h-6zM389 240h6v5h-6zM395 240h6v5h-6zM140 245h6v5h-6zM395 245h6v5h-6zM140 250h6v6h-6zM407 250h6v6h-6zM432 256h6v5h-6zM438 256h6v5h-6zM444 256h7v5h-7zM476 256h6v5h-6zM482 256h6v5h-6zM75 266h3v5h-3zM78 266h6v5h-6zM128 266h6v5h-6zM519 266h5v5h-5z"/>
<path fill="#a81569" d="M364 158h6v5h-6z"/>
<path fill="#8505fd" d="M190 163h6v5h-6zM326 163h7v5h-7zM202 183h6v6h-6zM215 194h6v5h-6zM202 214h6v6h-6zM190 225h6v5h-6zM351 256h7v5h-7zM451 312h6v5h-6z"/>
<path fill="#8205fe" d="M202 163h6v5h-6zM215 173h6v5h-6zM215 214h6v6h-6zM190 235h6v5h-6zM351 266h7v5h-7zM451 323h6v5h-6z"/>
<path fill="#9e0eac" d="M351 163h7v5h-7zM351 183h7v6h-7z"/>
<path fill="#ac1848" d="M364 168h6v5h-6zM364 173h6v5h-6zM364 178h6v5h-6z"/>
<path fill="#be2b00" d="M476 168h6v5h-6zM494 168h6v5h-6zM500 168h7v5h-7zM507 168h6v5h-6zM513 168h6v5h-6zM519 168h5v5h-5zM97 173h6v5h-6zM426 173h6v5h-6zM432 173h6v5h-6zM438 173h6v5h-6zM444 173h7v5h-7zM109 178h6v5h-6zM413 178h7v5h-7zM420 178h6v5h-6zM451 178h6v5h-6zM457 178h6v5h-6zM463 178h6v5h-6zM140 183h6v6h-6zM401 183h6v6h-6zM146 189h7v5h-7zM401 189h6v5h-6zM146 194h7v5h-7zM395 194h6v5h-6zM146 199h7v5h-7zM395 199h6v5h-6zM146 204h7v5h-7zM395 204h6v5h-6zM395 209h6v5h-6zM395 214h6v6h-6zM401 214h6v6h-6zM395 220h6v5h-6zM140 230h6v5h-6zM140 235h6v5h-6zM413 250h7v6h-7zM469 250h7v6h-7zM488 256h6v5h-6zM494 256h6v5h-6zM500 256h7v5h-7zM134 261h6v5h-6zM84 266h6v5h-6zM121 266h7v5h-7z"/>
<path fill="#c23100" d="M482 168h6v5h-6zM488 168h6v5h-6zM90 173h7v5h-7zM476 173h6v5h-6zM426 178h6v5h-6zM444 178h7v5h-7zM469 178h7v5h-7zM121 183h7v6h-7zM128 183h6v6h-6zM134 183h6v6h-6zM407 183h6v6h-6zM413 183h7v6h-7zM457 183h6v6h-6zM463 183h6v6h-6zM469 183h7v6h-7zM140 189h6v5h-6zM407 189h6v5h-6zM401 194h6v5h-6zM401 199h6v5h-6zM401 204h6v5h-6zM401 209h6v5h-6zM407 214h6v6h-6zM401 220h6v5h-6zM140 225h6v5h-6zM395 225h6v5h-6zM395 230h6v5h-6zM134 240h6v5h-6zM401 240h6v5h-6zM134 245h6v5h-6zM401 245h6v5h-6zM134 250h6v6h-6zM420 250h6v6h-6zM451 250h6v6h-6zM457 250h6v6h-6zM463 250h6v6h-6zM476 250h6v6h-6zM134 256h6v5h-6zM507 256h6v5h-6zM513 261h6v5h-6z"/>
<path fill="#c53700" d="M75 173h3v5h-3zM78 173h6v5h-6zM84 173h6v5h-6zM482 173h6v5h-6zM488 173h6v5h-6zM494 173h6v5h-6zM500 173h7v5h-7zM507 173h6v5h-6zM513 173h6v5h-6zM519 173h5v5h-5zM97 178h6v5h-6zM103 178h6v5h-6zM432 178h6v5h-6zM438 178h6v5h-6zM115 183h6v6h-6zM420 183h6v6h-6zM444 183h7v6h-7zM451 183h6v6h-6zM134 189h6v5h-6zM413 189h7v5h-7zM457 189h6v5h-6zM463 189h6v5h-6zM469 189h7v5h-7zM140 194h6v5h-6zM407 194h6v5h-6zM413 194h7v5h-7zM140 199h6v5h-6zM407 199h6v5h-6zM140 204h6v5h-6zM407 204h6v5h-6zM140 209h6v5h-6zM407 209h6v5h-6zM140 214h6v6h-6zM140 220h6v5h-6zM407 220h6v5h-6zM401 225h6v5h-6zM134 235h6v5h-6zM395 235h6v5h-6zM457 240h6v5h-6zM463 245h6v5h-6zM469 245h7v5h-7zM426 250h6v6h-6zM444 250h7v6h-7zM482 250h6v6h-6zM128 261h6v5h-6zM519 261h5v5h-5zM90 266h7v5h-7zM115 266h6v5h-6z"/>
<path fill="#6b01e4" d="M289 173h6v5h-6zM302 183h6v6h-6zM500 359h7v5h-7z"/>
<path fill="#d04b00" d="M75 178h3v5h-3zM97 183h6v6h-6zM494 183h6v6h-6zM519 183h5v6h-5zM121 189h7v5h-7zM444 189h7v5h-7zM476 189h6v5h-6zM482 189h6v5h-6zM134 194h6v5h-6zM426 194h6v5h-6zM444 194h7v5h-7zM476 194h6v5h-6zM482 194h6v5h-6zM451 199h6v5h-6zM476 199h6v5h-6zM482 199h6v5h-6zM420 204h6v5h-6zM451 204h6v5h-6zM457 204h6v5h-6zM426 209h6v5h-6zM432 209h6v5h-6zM444 209h7v5h-7zM451 209h6v5h-6zM457 209h6v5h-6zM463 209h6v5h-6zM469 209h7v5h-7zM420 214h6v6h-6zM432 214h6v6h-6zM451 214h6v6h-6zM134 220h6v5h-6zM420 220h6v5h-6zM438 220h6v5h-6zM451 220h6v5h-6zM444 225h7v5h-7zM451 225h6v5h-6zM128 230h6v5h-6zM407 230h6v5h-6zM444 230h7v5h-7zM451 230h6v5h-6zM444 235h7v5h-7zM451 235h6v5h-6zM469 235h7v5h-7zM121 240h7v5h-7zM121 245h7v5h-7zM482 245h6v5h-6zM121 250h7v6h-7zM507 250h6v6h-6zM121 256h7v5h-7zM519 256h5v5h-5zM75 261h3v5h-3zM78 261h6v5h-6z"/>
<path fill="#cc4400" d="M78 178h6v5h-6zM84 178h6v5h-6zM103 183h6v6h-6zM432 183h6v6h-6zM476 183h6v6h-6zM482 183h6v6h-6zM488 183h6v6h-6zM500 183h7v6h-7zM507 183h6v6h-6zM513 183h6v6h-6zM128 189h6v5h-6zM426 189h6v5h-6zM420 194h6v5h-6zM451 194h6v5h-6zM420 199h6v5h-6zM457 199h6v5h-6zM463 199h6v5h-6zM463 204h6v5h-6zM469 204h7v5h-7zM420 209h6v5h-6zM438 214h6v6h-6zM444 214h7v6h-7zM413 220h7v5h-7zM444 220h7v5h-7zM134 225h6v5h-6zM407 225h6v5h-6zM134 230h6v5h-6zM128 235h6v5h-6zM401 235h6v5h-6zM407 240h6v5h-6zM451 240h6v5h-6zM469 240h7v5h-7zM407 245h6v5h-6zM451 245h6v5h-6zM476 245h6v5h-6zM494 250h6v6h-6zM500 250h7v6h-7zM121 261h7v5h-7zM97 266h6v5h-6zM103 266h6v5h-6z"/>
<path fill="#c93d00" d="M90 178h7v5h-7zM476 178h6v5h-6zM482 178h6v5h-6zM488 178h6v5h-6zM494 178h6v5h-6zM500 178h7v5h-7zM507 178h6v5h-6zM513 178h6v5h-6zM519 178h5v5h-5zM109 183h6v6h-6zM426 183h6v6h-6zM438 183h6v6h-6zM420 189h6v5h-6zM451 189h6v5h-6zM457 194h6v5h-6zM463 194h6v5h-6zM469 194h7v5h-7zM413 199h7v5h-7zM469 199h7v5h-7zM413 204h7v5h-7zM413 209h7v5h-7zM413 214h7v6h-7zM401 230h6v5h-6zM128 240h6v5h-6zM463 240h6v5h-6zM128 245h6v5h-6zM457 245h6v5h-6zM128 250h6v6h-6zM432 250h6v6h-6zM438 250h6v6h-6zM488 250h6v6h-6zM128 256h6v5h-6zM109 266h6v5h-6z"/>
<path fill="#d75b00" d="M75 183h3v6h-3zM78 183h6v6h-6zM84 183h6v6h-6zM115 189h6v5h-6zM128 194h6v5h-6zM432 194h6v5h-6zM438 194h6v5h-6zM494 194h6v5h-6zM500 194h7v5h-7zM507 194h6v5h-6zM513 194h6v5h-6zM519 194h5v5h-5zM432 199h6v5h-6zM438 199h6v5h-6zM494 199h6v5h-6zM513 199h6v5h-6zM519 199h5v5h-5zM134 204h6v5h-6zM432 204h6v5h-6zM476 204h6v5h-6zM482 204h6v5h-6zM488 204h6v5h-6zM476 209h6v5h-6zM482 209h6v5h-6zM488 209h6v5h-6zM469 214h7v6h-7zM507 214h6v6h-6zM513 214h6v6h-6zM426 220h6v5h-6zM457 220h6v5h-6zM463 220h6v5h-6zM469 220h7v5h-7zM482 220h6v5h-6zM500 220h7v5h-7zM420 225h6v5h-6zM432 225h6v5h-6zM476 225h6v5h-6zM494 225h6v5h-6zM500 225h7v5h-7zM413 230h7v5h-7zM438 230h6v5h-6zM109 235h6v5h-6zM115 235h6v5h-6zM407 235h6v5h-6zM438 235h6v5h-6zM103 240h6v5h-6zM109 240h6v5h-6zM115 240h6v5h-6zM413 240h7v5h-7zM444 240h7v5h-7zM103 245h6v5h-6zM115 245h6v5h-6zM444 245h7v5h-7zM494 245h6v5h-6zM500 245h7v5h-7zM115 250h6v6h-6zM90 261h7v5h-7z"/>
<path fill="#d35300" d="M90 183h7v6h-7zM432 189h6v5h-6zM438 189h6v5h-6zM488 189h6v5h-6zM494 189h6v5h-6zM500 189h7v5h-7zM507 189h6v5h-6zM513 189h6v5h-6zM519 189h5v5h-5zM488 194h6v5h-6zM134 199h6v5h-6zM426 199h6v5h-6zM444 199h7v5h-7zM488 199h6v5h-6zM426 204h6v5h-6zM438 204h6v5h-6zM444 204h7v5h-7zM134 209h6v5h-6zM438 209h6v5h-6zM134 214h6v6h-6zM426 214h6v6h-6zM457 214h6v6h-6zM463 214h6v6h-6zM432 220h6v5h-6zM128 225h6v5h-6zM413 225h7v5h-7zM438 225h6v5h-6zM457 225h6v5h-6zM463 225h6v5h-6zM469 225h7v5h-7zM457 230h6v5h-6zM463 230h6v5h-6zM469 230h7v5h-7zM121 235h7v5h-7zM457 235h6v5h-6zM463 235h6v5h-6zM413 245h7v5h-7zM488 245h6v5h-6zM513 256h6v5h-6zM84 261h6v5h-6zM115 261h6v5h-6z"/>
<path fill="#7603f9" d="M252 183h6v6h-6zM252 194h6v5h-6zM215 225h6v5h-6zM190 256h6v5h-6zM476 359h6v5h-6z"/>
<path fill="#ad193f" d="M364 183h6v6h-6z"/>
<path fill="#e78d00" d="M75 189h3v5h-3zM78 189h6v5h-6zM84 189h6v5h-6zM90 189h7v5h-7zM121 194h7v5h-7zM128 204h6v5h-6zM128 209h6v5h-6zM75 214h3v6h-3zM78 214h6v6h-6zM109 220h6v5h-6zM115 220h6v5h-6zM432 240h6v5h-6zM78 250h6v6h-6zM84 250h6v6h-6z"/>
<path fill="#e17700" d="M97 189h6v5h-6zM500 204h7v5h-7zM128 214h6v6h-6zM75 220h3v5h-3zM78 225h6v5h-6zM103 225h6v5h-6zM115 225h6v5h-6zM121 225h7v5h-7zM90 230h7v5h-7zM97 230h6v5h-6zM420 235h6v5h-6zM494 235h6v5h-6zM500 235h7v5h-7zM438 240h6v5h-6zM78 245h6v5h-6zM438 245h6v5h-6zM519 245h5v5h-5zM75 256h3v5h-3z"/>
<path fill="#dd6d00" d="M103 189h6v5h-6zM507 199h6v5h-6zM494 204h6v5h-6zM507 204h6v5h-6zM75 225h3v5h-3zM482 225h6v5h-6zM75 230h3v5h-3zM78 230h6v5h-6zM84 230h6v5h-6zM103 230h6v5h-6zM109 230h6v5h-6zM115 230h6v5h-6zM420 230h6v5h-6zM426 230h6v5h-6zM482 230h6v5h-6zM519 230h5v5h-5zM84 235h6v5h-6zM90 235h7v5h-7zM97 235h6v5h-6zM413 235h7v5h-7zM432 235h6v5h-6zM476 235h6v5h-6zM482 235h6v5h-6zM488 235h6v5h-6zM507 235h6v5h-6zM78 240h6v5h-6zM84 240h6v5h-6zM90 240h7v5h-7zM420 240h6v5h-6zM476 240h6v5h-6zM494 240h6v5h-6zM500 240h7v5h-7zM75 245h3v5h-3zM420 245h6v5h-6zM426 245h6v5h-6zM75 250h3v6h-3zM90 250h7v6h-7zM513 250h6v6h-6zM519 250h5v6h-5zM90 256h7v5h-7zM97 256h6v5h-6zM109 256h6v5h-6z"/>
<path fill="#da6400" d="M109 189h6v5h-6zM500 199h7v5h-7zM513 204h6v5h-6zM519 204h5v5h-5zM494 209h6v5h-6zM500 209h7v5h-7zM507 209h6v5h-6zM513 209h6v5h-6zM519 209h5v5h-5zM476 214h6v6h-6zM482 214h6v6h-6zM488 214h6v6h-6zM494 214h6v6h-6zM500 214h7v6h-7zM519 214h5v6h-5zM128 220h6v5h-6zM476 220h6v5h-6zM488 220h6v5h-6zM494 220h6v5h-6zM507 220h6v5h-6zM513 220h6v5h-6zM519 220h5v5h-5zM426 225h6v5h-6zM488 225h6v5h-6zM507 225h6v5h-6zM513 225h6v5h-6zM519 225h5v5h-5zM121 230h7v5h-7zM432 230h6v5h-6zM476 230h6v5h-6zM488 230h6v5h-6zM494 230h6v5h-6zM500 230h7v5h-7zM507 230h6v5h-6zM513 230h6v5h-6zM75 235h3v5h-3zM78 235h6v5h-6zM103 235h6v5h-6zM513 235h6v5h-6zM519 235h5v5h-5zM75 240h3v5h-3zM97 240h6v5h-6zM482 240h6v5h-6zM488 240h6v5h-6zM507 240h6v5h-6zM90 245h7v5h-7zM97 245h6v5h-6zM109 245h6v5h-6zM507 245h6v5h-6zM97 250h6v6h-6zM103 250h6v6h-6zM109 250h6v6h-6zM115 256h6v5h-6zM97 261h6v5h-6zM103 261h6v5h-6zM109 261h6v5h-6z"/>
<path fill="#ea9900" d="M75 194h3v5h-3zM97 220h6v5h-6zM103 220h6v5h-6z"/>
<path fill="#eda500" d="M78 194h6v5h-6zM103 194h6v5h-6zM115 194h6v5h-6zM75 199h3v5h-3zM121 199h7v5h-7zM75 204h3v5h-3zM121 204h7v5h-7zM75 209h3v5h-3zM121 209h7v5h-7zM115 214h6v6h-6zM121 214h7v6h-7zM90 225h7v5h-7z"/>
<path fill="#f0b200" d="M84 194h6v5h-6zM90 194h7v5h-7zM97 194h6v5h-6zM109 194h6v5h-6zM78 199h6v5h-6zM78 204h6v5h-6zM115 204h6v5h-6zM78 209h6v5h-6zM103 209h6v5h-6zM109 209h6v5h-6zM115 209h6v5h-6zM84 214h6v6h-6zM97 214h6v6h-6zM103 214h6v6h-6zM109 214h6v6h-6z"/>
<path fill="#8806fa" d="M202 194h6v5h-6z"/>
<path fill="#6401d2" d="M271 194h6v5h-6zM264 199h7v5h-7zM277 199h6v5h-6zM314 204h6v5h-6zM215 240h6v5h-6zM208 245h7v5h-7zM333 256h6v5h-6zM202 261h6v5h-6zM326 261h7v5h-7zM202 266h6v5h-6zM326 266h7v5h-7zM202 271h6v5h-6zM326 271h7v5h-7zM196 276h6v5h-6zM320 276h6v5h-6zM190 281h6v6h-6zM177 287h7v5h-7zM190 287h6v5h-6zM202 287h6v5h-6zM171 292h6v5h-6zM196 292h6v5h-6zM153 302h6v5h-6zM90 333h7v5h-7zM84 338h6v5h-6zM78 343h6v5h-6zM75 348h3v6h-3zM426 354h6v5h-6zM432 359h6v5h-6zM438 364h6v5h-6zM500 364h7v5h-7zM444 369h7v5h-7zM482 369h6v5h-6zM488 369h6v5h-6zM494 369h6v5h-6z"/>
<path fill="#6601d7" d="M277 194h6v5h-6zM202 256h6v5h-6zM326 276h7v5h-7zM165 292h6v5h-6zM451 369h6v5h-6zM476 369h6v5h-6z"/>
<path fill="#f9dd00" d="M84 199h6v5h-6zM103 199h6v5h-6zM109 199h6v5h-6zM84 204h6v5h-6zM103 204h6v5h-6zM90 209h7v5h-7z"/>
<path fill="#fced00" d="M90 199h7v5h-7zM97 199h6v5h-6zM97 204h6v5h-6z"/>
<path fill="#f6ce00" d="M115 199h6v5h-6zM84 209h6v5h-6zM90 214h7v6h-7zM90 220h7v5h-7z"/>
<path fill="#e48200" d="M128 199h6v5h-6zM78 220h6v5h-6zM84 220h6v5h-6zM121 220h7v5h-7zM84 225h6v5h-6zM97 225h6v5h-6zM109 225h6v5h-6zM426 235h6v5h-6zM426 240h6v5h-6zM513 240h6v5h-6zM519 240h5v5h-5zM84 245h6v5h-6zM432 245h6v5h-6zM513 245h6v5h-6zM78 256h6v5h-6zM84 256h6v5h-6zM103 256h6v5h-6z"/>
<path fill="#6001c5" d="M271 199h6v5h-6zM208 250h7v6h-7zM215 250h6v6h-6zM208 256h7v5h-7zM215 256h6v5h-6zM326 256h7v5h-7zM208 261h7v5h-7zM215 261h6v5h-6zM320 261h6v5h-6zM208 266h7v5h-7zM215 266h6v5h-6zM320 266h6v5h-6zM208 271h7v5h-7zM215 271h6v5h-6zM320 271h6v5h-6zM208 276h7v5h-7zM215 276h6v5h-6zM196 281h6v6h-6zM202 281h6v6h-6zM208 281h7v6h-7zM215 281h6v6h-6zM184 287h6v5h-6zM208 287h7v5h-7zM215 287h6v5h-6zM320 287h6v5h-6zM326 287h7v5h-7zM184 292h6v5h-6zM202 292h6v5h-6zM320 292h6v5h-6zM326 292h7v5h-7zM159 297h6v5h-6zM165 297h6v5h-6zM171 297h6v5h-6zM177 297h7v5h-7zM184 297h6v5h-6zM190 297h6v5h-6zM196 297h6v5h-6zM320 297h6v5h-6zM326 297h7v5h-7zM115 302h6v5h-6zM121 302h7v5h-7zM128 302h6v5h-6zM134 302h6v5h-6zM140 302h6v5h-6zM146 302h7v5h-7zM196 302h6v5h-6zM115 307h6v5h-6zM121 307h7v5h-7zM128 307h6v5h-6zM134 307h6v5h-6zM153 307h6v5h-6zM196 307h6v5h-6zM109 312h6v5h-6zM115 312h6v5h-6zM121 312h7v5h-7zM109 317h6v6h-6zM115 317h6v6h-6zM121 317h7v6h-7zM184 317h6v6h-6zM103 323h6v5h-6zM109 323h6v5h-6zM115 323h6v5h-6zM121 323h7v5h-7zM97 328h6v5h-6zM103 328h6v5h-6zM109 328h6v5h-6zM115 328h6v5h-6zM97 333h6v5h-6zM90 338h7v5h-7zM84 343h6v5h-6zM78 348h6v6h-6zM75 354h3v5h-3zM426 359h6v5h-6zM432 364h6v5h-6zM507 364h6v5h-6zM513 364h6v5h-6zM519 364h5v5h-5zM438 369h6v5h-6zM500 369h7v5h-7zM444 374h7v5h-7zM451 374h6v5h-6zM457 374h6v5h-6zM463 374h6v5h-6zM469 374h7v5h-7zM476 374h6v5h-6zM482 374h6v5h-6zM488 374h6v5h-6zM494 374h6v5h-6z"/>
<path fill="#fffd00" d="M90 204h7v5h-7z"/>
<path fill="#f3c000" d="M109 204h6v5h-6zM97 209h6v5h-6z"/>
<path fill="#6a01e3" d="M289 204h6v5h-6z"/>
<path fill="#6601d8" d="M308 204h6v5h-6z"/>
<path fill="#5d01bd" d="M320 204h6v5h-6zM264 209h7v5h-7zM271 209h6v5h-6zM326 209h7v5h-7zM258 214h6v6h-6zM264 214h7v6h-7zM271 214h6v6h-6zM277 214h6v6h-6zM308 214h6v6h-6zM314 214h6v6h-6zM326 214h7v6h-7zM258 220h6v5h-6zM277 220h6v5h-6zM302 220h6v5h-6zM326 220h7v5h-7zM252 225h6v5h-6zM277 225h6v5h-6zM308 225h6v5h-6zM314 225h6v5h-6zM320 225h6v5h-6zM326 225h7v5h-7zM252 230h6v5h-6zM283 230h6v5h-6zM320 230h6v5h-6zM283 235h6v5h-6zM320 235h6v5h-6zM258 240h6v5h-6zM264 240h7v5h-7zM320 240h6v5h-6zM320 245h6v5h-6zM289 250h6v6h-6zM295 250h7v6h-7zM302 250h6v6h-6zM308 250h6v6h-6zM314 250h6v6h-6zM320 250h6v6h-6zM246 256h6v5h-6zM252 256h6v5h-6zM283 256h6v5h-6zM289 256h6v5h-6zM295 256h7v5h-7zM302 256h6v5h-6zM308 256h6v5h-6zM314 256h6v5h-6zM239 261h7v5h-7zM246 261h6v5h-6zM252 261h6v5h-6zM258 261h6v5h-6zM264 261h7v5h-7zM277 261h6v5h-6zM283 261h6v5h-6zM289 261h6v5h-6zM295 261h7v5h-7zM302 261h6v5h-6zM308 261h6v5h-6zM233 266h6v5h-6zM239 266h7v5h-7zM246 266h6v5h-6zM252 266h6v5h-6zM258 266h6v5h-6zM264 266h7v5h-7zM271 266h6v5h-6zM277 266h6v5h-6zM283 266h6v5h-6zM289 266h6v5h-6zM295 266h7v5h-7zM302 266h6v5h-6zM227 271h6v5h-6zM233 271h6v5h-6zM239 271h7v5h-7zM246 271h6v5h-6zM271 271h6v5h-6zM277 271h6v5h-6zM283 271h6v5h-6zM289 271h6v5h-6zM295 271h7v5h-7zM302 271h6v5h-6zM221 276h6v5h-6zM227 276h6v5h-6zM233 276h6v5h-6zM239 276h7v5h-7zM271 276h6v5h-6zM277 276h6v5h-6zM283 276h6v5h-6zM289 276h6v5h-6zM295 276h7v5h-7zM302 276h6v5h-6zM233 281h6v6h-6zM239 281h7v6h-7zM246 281h6v6h-6zM283 281h6v6h-6zM289 281h6v6h-6zM295 281h7v6h-7zM302 281h6v6h-6zM308 281h6v6h-6zM227 287h6v5h-6zM233 287h6v5h-6zM239 287h7v5h-7zM289 287h6v5h-6zM295 287h7v5h-7zM302 287h6v5h-6zM308 287h6v5h-6zM221 292h6v5h-6zM227 292h6v5h-6zM233 292h6v5h-6zM302 292h6v5h-6zM308 292h6v5h-6zM314 292h6v5h-6zM339 292h6v5h-6zM345 292h6v5h-6zM221 297h6v5h-6zM227 297h6v5h-6zM289 297h6v5h-6zM295 297h7v5h-7zM302 297h6v5h-6zM308 297h6v5h-6zM314 297h6v5h-6zM333 297h6v5h-6zM339 297h6v5h-6zM345 297h6v5h-6zM351 297h7v5h-7zM358 297h6v5h-6zM221 302h6v5h-6zM283 302h6v5h-6zM289 302h6v5h-6zM295 302h7v5h-7zM302 302h6v5h-6zM308 302h6v5h-6zM314 302h6v5h-6zM333 302h6v5h-6zM358 302h6v5h-6zM277 307h6v5h-6zM283 307h6v5h-6zM289 307h6v5h-6zM295 307h7v5h-7zM302 307h6v5h-6zM308 307h6v5h-6zM314 307h6v5h-6zM364 307h6v5h-6zM289 312h6v5h-6zM295 312h7v5h-7zM302 312h6v5h-6zM308 312h6v5h-6zM314 312h6v5h-6zM320 312h6v5h-6zM326 312h7v5h-7zM364 312h6v5h-6zM271 317h6v6h-6zM277 317h6v6h-6zM283 317h6v6h-6zM289 317h6v6h-6zM295 317h7v6h-7zM302 317h6v6h-6zM364 317h6v6h-6zM358 323h6v5h-6zM370 323h6v5h-6zM376 328h6v5h-6zM376 333h6v5h-6zM382 333h7v5h-7zM382 338h7v5h-7zM171 343h6v5h-6zM177 343h7v5h-7zM184 343h6v5h-6zM190 343h6v5h-6zM196 343h6v5h-6zM202 343h6v5h-6zM208 343h7v5h-7zM215 343h6v5h-6zM221 343h6v5h-6zM389 343h6v5h-6zM221 348h6v6h-6zM389 348h6v6h-6zM395 348h6v6h-6zM395 354h6v5h-6zM401 354h6v5h-6zM401 359h6v5h-6zM407 364h6v5h-6zM413 369h7v5h-7zM420 374h6v5h-6z"/>
<path fill="#5500a4" d="M320 209h6v5h-6zM320 214h6v6h-6zM264 220h7v5h-7zM271 220h6v5h-6zM308 220h6v5h-6zM314 220h6v5h-6zM320 220h6v5h-6zM258 225h6v5h-6zM264 225h7v5h-7zM271 225h6v5h-6zM258 230h6v5h-6zM277 230h6v5h-6zM258 235h6v5h-6zM264 235h7v5h-7zM271 235h6v5h-6zM277 235h6v5h-6zM252 271h6v5h-6zM258 271h6v5h-6zM264 271h7v5h-7zM246 276h6v5h-6zM252 276h6v5h-6zM258 276h6v5h-6zM264 276h7v5h-7zM252 281h6v6h-6zM258 281h6v6h-6zM264 281h7v6h-7zM271 281h6v6h-6zM277 281h6v6h-6zM246 287h6v5h-6zM252 287h6v5h-6zM277 287h6v5h-6zM283 287h6v5h-6zM239 292h7v5h-7zM246 292h6v5h-6zM252 292h6v5h-6zM271 292h6v5h-6zM277 292h6v5h-6zM283 292h6v5h-6zM289 292h6v5h-6zM295 292h7v5h-7zM233 297h6v5h-6zM239 297h7v5h-7zM246 297h6v5h-6zM258 297h6v5h-6zM264 297h7v5h-7zM271 297h6v5h-6zM277 297h6v5h-6zM283 297h6v5h-6zM227 302h6v5h-6zM233 302h6v5h-6zM258 302h6v5h-6zM264 302h7v5h-7zM271 302h6v5h-6zM277 302h6v5h-6zM339 302h6v5h-6zM345 302h6v5h-6zM351 302h7v5h-7zM221 307h6v5h-6zM227 307h6v5h-6zM233 307h6v5h-6zM252 307h6v5h-6zM258 307h6v5h-6zM264 307h7v5h-7zM271 307h6v5h-6zM333 307h6v5h-6zM339 307h6v5h-6zM345 307h6v5h-6zM351 307h7v5h-7zM358 307h6v5h-6zM215 312h6v5h-6zM221 312h6v5h-6zM252 312h6v5h-6zM258 312h6v5h-6zM264 312h7v5h-7zM271 312h6v5h-6zM277 312h6v5h-6zM283 312h6v5h-6zM333 312h6v5h-6zM339 312h6v5h-6zM345 312h6v5h-6zM351 312h7v5h-7zM358 312h6v5h-6zM258 317h6v6h-6zM264 317h7v6h-7zM308 317h6v6h-6zM314 317h6v6h-6zM333 317h6v6h-6zM339 317h6v6h-6zM345 317h6v6h-6zM351 317h7v6h-7zM358 317h6v6h-6zM215 323h6v5h-6zM258 323h6v5h-6zM264 323h7v5h-7zM271 323h6v5h-6zM277 323h6v5h-6zM283 323h6v5h-6zM289 323h6v5h-6zM295 323h7v5h-7zM302 323h6v5h-6zM308 323h6v5h-6zM314 323h6v5h-6zM320 323h6v5h-6zM326 323h7v5h-7zM333 323h6v5h-6zM339 323h6v5h-6zM345 323h6v5h-6zM364 323h6v5h-6zM264 328h7v5h-7zM271 328h6v5h-6zM277 328h6v5h-6zM283 328h6v5h-6zM289 328h6v5h-6zM295 328h7v5h-7zM302 328h6v5h-6zM308 328h6v5h-6zM314 328h6v5h-6zM358 328h6v5h-6zM370 328h6v5h-6zM221 333h6v5h-6zM370 333h6v5h-6zM221 338h6v5h-6zM227 338h6v5h-6zM376 338h6v5h-6zM153 343h6v5h-6zM159 343h6v5h-6zM165 343h6v5h-6zM382 343h7v5h-7zM171 348h6v6h-6zM177 348h7v6h-7zM184 348h6v6h-6zM202 348h6v6h-6zM208 348h7v6h-7zM215 348h6v6h-6zM382 348h7v6h-7zM215 354h6v5h-6zM221 354h6v5h-6zM389 354h6v5h-6zM78 359h6v5h-6zM389 359h6v5h-6zM395 359h6v5h-6zM395 364h6v5h-6zM401 364h6v5h-6zM401 369h6v5h-6zM407 369h6v5h-6zM407 374h6v5h-6zM413 374h7v5h-7zM413 379h7v6h-7zM420 379h6v6h-6zM438 379h6v6h-6zM500 379h7v6h-7zM420 385h6v5h-6z"/>
<path fill="#4c0087" d="M264 230h7v5h-7zM271 230h6v5h-6zM258 287h6v5h-6zM264 287h7v5h-7zM271 287h6v5h-6zM258 292h6v5h-6zM264 292h7v5h-7zM252 297h6v5h-6zM239 302h7v5h-7zM246 302h6v5h-6zM252 302h6v5h-6zM239 307h7v5h-7zM246 307h6v5h-6zM227 312h6v5h-6zM233 312h6v5h-6zM239 312h7v5h-7zM246 312h6v5h-6zM221 317h6v6h-6zM227 317h6v6h-6zM233 317h6v6h-6zM239 317h7v6h-7zM246 317h6v6h-6zM252 317h6v6h-6zM221 323h6v5h-6zM227 323h6v5h-6zM252 323h6v5h-6zM221 328h6v5h-6zM227 328h6v5h-6zM252 328h6v5h-6zM258 328h6v5h-6zM364 328h6v5h-6zM227 333h6v5h-6zM233 333h6v5h-6zM239 333h7v5h-7zM246 333h6v5h-6zM252 333h6v5h-6zM258 333h6v5h-6zM264 333h7v5h-7zM271 333h6v5h-6zM277 333h6v5h-6zM283 333h6v5h-6zM289 333h6v5h-6zM295 333h7v5h-7zM302 333h6v5h-6zM308 333h6v5h-6zM314 333h6v5h-6zM320 333h6v5h-6zM326 333h7v5h-7zM333 333h6v5h-6zM339 333h6v5h-6zM345 333h6v5h-6zM351 333h7v5h-7zM358 333h6v5h-6zM364 333h6v5h-6zM134 338h6v5h-6zM140 338h6v5h-6zM146 338h7v5h-7zM153 338h6v5h-6zM159 338h6v5h-6zM165 338h6v5h-6zM171 338h6v5h-6zM177 338h7v5h-7zM184 338h6v5h-6zM233 338h6v5h-6zM239 338h7v5h-7zM246 338h6v5h-6zM252 338h6v5h-6zM258 338h6v5h-6zM264 338h7v5h-7zM271 338h6v5h-6zM277 338h6v5h-6zM283 338h6v5h-6zM289 338h6v5h-6zM295 338h7v5h-7zM302 338h6v5h-6zM308 338h6v5h-6zM314 338h6v5h-6zM320 338h6v5h-6zM326 338h7v5h-7zM333 338h6v5h-6zM339 338h6v5h-6zM345 338h6v5h-6zM370 338h6v5h-6zM128 343h6v5h-6zM227 343h6v5h-6zM233 343h6v5h-6zM239 343h7v5h-7zM246 343h6v5h-6zM252 343h6v5h-6zM258 343h6v5h-6zM264 343h7v5h-7zM271 343h6v5h-6zM289 343h6v5h-6zM295 343h7v5h-7zM302 343h6v5h-6zM308 343h6v5h-6zM314 343h6v5h-6zM320 343h6v5h-6zM326 343h7v5h-7zM333 343h6v5h-6zM339 343h6v5h-6zM345 343h6v5h-6zM376 343h6v5h-6zM109 348h6v6h-6zM115 348h6v6h-6zM121 348h7v6h-7zM153 348h6v6h-6zM159 348h6v6h-6zM165 348h6v6h-6zM190 348h6v6h-6zM196 348h6v6h-6zM227 348h6v6h-6zM233 348h6v6h-6zM239 348h7v6h-7zM246 348h6v6h-6zM252 348h6v6h-6zM258 348h6v6h-6zM264 348h7v6h-7zM271 348h6v6h-6zM277 348h6v6h-6zM283 348h6v6h-6zM289 348h6v6h-6zM295 348h7v6h-7zM302 348h6v6h-6zM308 348h6v6h-6zM314 348h6v6h-6zM333 348h6v6h-6zM339 348h6v6h-6zM345 348h6v6h-6zM376 348h6v6h-6zM103 354h6v5h-6zM153 354h6v5h-6zM159 354h6v5h-6zM165 354h6v5h-6zM171 354h6v5h-6zM177 354h7v5h-7zM184 354h6v5h-6zM202 354h6v5h-6zM208 354h7v5h-7zM227 354h6v5h-6zM233 354h6v5h-6zM333 354h6v5h-6zM339 354h6v5h-6zM345 354h6v5h-6zM376 354h6v5h-6zM382 354h7v5h-7zM97 359h6v5h-6zM208 359h7v5h-7zM215 359h6v5h-6zM221 359h6v5h-6zM376 359h6v5h-6zM382 359h7v5h-7zM90 364h7v5h-7zM221 364h6v5h-6zM382 364h7v5h-7zM389 364h6v5h-6zM75 369h3v5h-3zM389 369h6v5h-6zM395 369h6v5h-6zM333 374h6v5h-6zM339 374h6v5h-6zM395 374h6v5h-6zM401 374h6v5h-6zM401 379h6v6h-6zM407 379h6v6h-6zM519 379h5v6h-5zM407 385h6v5h-6zM413 385h7v5h-7zM426 385h6v5h-6zM513 385h6v5h-6zM413 390h7v5h-7zM420 390h6v5h-6zM444 390h7v5h-7zM494 390h6v5h-6zM500 390h7v5h-7zM507 390h6v5h-6zM420 395h6v5h-6zM463 395h6v5h-6zM488 395h6v5h-6zM469 400h7v5h-7zM476 400h6v5h-6zM482 400h6v5h-6z"/>
<path fill="#6201cc" d="M215 245h6v5h-6zM202 276h6v5h-6zM177 292h7v5h-7zM190 292h6v5h-6z"/>
<path fill="#5b01b8" d="M320 256h6v5h-6zM208 292h7v5h-7zM215 292h6v5h-6zM202 297h6v5h-6zM159 302h6v5h-6zM165 302h6v5h-6zM171 302h6v5h-6zM177 302h7v5h-7zM184 302h6v5h-6zM202 302h6v5h-6zM190 307h6v5h-6zM202 307h6v5h-6zM153 312h6v5h-6zM184 312h6v5h-6zM190 312h6v5h-6zM196 312h6v5h-6zM177 317h7v6h-7zM190 317h6v6h-6zM184 323h6v5h-6zM103 333h6v5h-6zM215 333h6v5h-6zM97 338h6v5h-6zM90 343h7v5h-7zM84 348h6v6h-6zM78 354h6v5h-6zM426 364h6v5h-6zM432 369h6v5h-6zM507 369h6v5h-6zM438 374h6v5h-6zM500 374h7v5h-7zM457 379h6v6h-6zM463 379h6v6h-6zM469 379h7v6h-7zM476 379h6v6h-6zM482 379h6v6h-6z"/>
<path fill="#7102f0" d="M339 256h6v5h-6zM190 266h6v5h-6zM339 276h6v5h-6zM488 359h6v5h-6z"/>
<path fill="#5700a9" d="M208 297h7v5h-7zM215 297h6v5h-6zM208 302h7v5h-7zM215 302h6v5h-6zM140 307h6v5h-6zM146 307h7v5h-7zM159 307h6v5h-6zM165 307h6v5h-6zM171 307h6v5h-6zM177 307h7v5h-7zM184 307h6v5h-6zM208 307h7v5h-7zM215 307h6v5h-6zM128 312h6v5h-6zM134 312h6v5h-6zM140 312h6v5h-6zM146 312h7v5h-7zM159 312h6v5h-6zM165 312h6v5h-6zM171 312h6v5h-6zM208 312h7v5h-7zM128 317h6v6h-6zM134 317h6v6h-6zM140 317h6v6h-6zM146 317h7v6h-7zM153 317h6v6h-6zM159 317h6v6h-6zM165 317h6v6h-6zM171 317h6v6h-6zM196 317h6v6h-6zM202 317h6v6h-6zM208 317h7v6h-7zM128 323h6v5h-6zM134 323h6v5h-6zM140 323h6v5h-6zM146 323h7v5h-7zM153 323h6v5h-6zM159 323h6v5h-6zM165 323h6v5h-6zM171 323h6v5h-6zM196 323h6v5h-6zM202 323h6v5h-6zM208 323h7v5h-7zM121 328h7v5h-7zM128 328h6v5h-6zM134 328h6v5h-6zM140 328h6v5h-6zM146 328h7v5h-7zM153 328h6v5h-6zM159 328h6v5h-6zM165 328h6v5h-6zM171 328h6v5h-6zM177 328h7v5h-7zM184 328h6v5h-6zM190 328h6v5h-6zM196 328h6v5h-6zM202 328h6v5h-6zM208 328h7v5h-7zM215 328h6v5h-6zM109 333h6v5h-6zM115 333h6v5h-6zM121 333h7v5h-7zM196 333h6v5h-6zM202 333h6v5h-6zM208 333h7v5h-7zM103 338h6v5h-6zM215 338h6v5h-6zM97 343h6v5h-6zM90 348h7v6h-7zM84 354h6v5h-6zM75 359h3v5h-3zM426 369h6v5h-6zM519 369h5v5h-5zM432 374h6v5h-6zM507 374h6v5h-6zM444 379h7v6h-7zM494 379h6v6h-6zM457 385h6v5h-6zM463 385h6v5h-6zM469 385h7v5h-7zM476 385h6v5h-6zM482 385h6v5h-6z"/>
<path fill="#5d01bf" d="M190 302h6v5h-6z"/>
<path fill="#6101c9" d="M320 307h6v5h-6zM326 307h7v5h-7z"/>
<path fill="#5900b1" d="M177 312h7v5h-7zM202 312h6v5h-6zM320 317h6v6h-6zM326 317h7v6h-7zM177 323h7v5h-7zM190 323h6v5h-6zM351 323h7v5h-7zM513 369h6v5h-6zM451 379h6v6h-6zM488 379h6v6h-6z"/>
<path fill="#53009e" d="M215 317h6v6h-6zM128 333h6v5h-6zM190 333h6v5h-6zM109 338h6v5h-6zM115 338h6v5h-6zM121 338h7v5h-7zM196 338h6v5h-6zM202 338h6v5h-6zM208 338h7v5h-7zM103 343h6v5h-6zM97 348h6v6h-6zM90 354h7v5h-7zM84 359h6v5h-6zM426 374h6v5h-6zM513 374h6v5h-6zM432 379h6v6h-6zM507 379h6v6h-6zM451 385h6v5h-6zM488 385h6v5h-6zM469 390h7v5h-7zM476 390h6v5h-6zM482 390h6v5h-6z"/>
<path fill="#420068" d="M233 323h6v5h-6zM239 323h7v5h-7zM246 323h6v5h-6zM233 328h6v5h-6zM239 328h7v5h-7zM246 328h6v5h-6zM351 338h7v5h-7zM358 338h6v5h-6zM364 338h6v5h-6zM277 343h6v5h-6zM283 343h6v5h-6zM351 343h7v5h-7zM370 343h6v5h-6zM351 348h7v6h-7zM370 348h6v6h-6zM190 354h6v5h-6zM196 354h6v5h-6zM246 354h6v5h-6zM252 354h6v5h-6zM258 354h6v5h-6zM264 354h7v5h-7zM271 354h6v5h-6zM277 354h6v5h-6zM283 354h6v5h-6zM289 354h6v5h-6zM295 354h7v5h-7zM302 354h6v5h-6zM308 354h6v5h-6zM314 354h6v5h-6zM320 354h6v5h-6zM351 354h7v5h-7zM370 354h6v5h-6zM153 359h6v5h-6zM159 359h6v5h-6zM165 359h6v5h-6zM171 359h6v5h-6zM177 359h7v5h-7zM184 359h6v5h-6zM190 359h6v5h-6zM196 359h6v5h-6zM202 359h6v5h-6zM239 359h7v5h-7zM283 359h6v5h-6zM289 359h6v5h-6zM295 359h7v5h-7zM302 359h6v5h-6zM308 359h6v5h-6zM314 359h6v5h-6zM320 359h6v5h-6zM345 359h6v5h-6zM351 359h7v5h-7zM358 359h6v5h-6zM364 359h6v5h-6zM370 359h6v5h-6zM153 364h6v5h-6zM159 364h6v5h-6zM165 364h6v5h-6zM190 364h6v5h-6zM196 364h6v5h-6zM202 364h6v5h-6zM208 364h7v5h-7zM215 364h6v5h-6zM227 364h6v5h-6zM233 364h6v5h-6zM283 364h6v5h-6zM289 364h6v5h-6zM295 364h7v5h-7zM302 364h6v5h-6zM308 364h6v5h-6zM314 364h6v5h-6zM320 364h6v5h-6zM326 364h7v5h-7zM333 364h6v5h-6zM339 364h6v5h-6zM345 364h6v5h-6zM351 364h7v5h-7zM358 364h6v5h-6zM364 364h6v5h-6zM370 364h6v5h-6zM376 364h6v5h-6zM208 369h7v5h-7zM215 369h6v5h-6zM221 369h6v5h-6zM283 369h6v5h-6zM289 369h6v5h-6zM295 369h7v5h-7zM302 369h6v5h-6zM308 369h6v5h-6zM314 369h6v5h-6zM320 369h6v5h-6zM345 369h6v5h-6zM351 369h7v5h-7zM358 369h6v5h-6zM364 369h6v5h-6zM370 369h6v5h-6zM376 369h6v5h-6zM382 369h7v5h-7zM283 374h6v5h-6zM289 374h6v5h-6zM295 374h7v5h-7zM302 374h6v5h-6zM308 374h6v5h-6zM314 374h6v5h-6zM320 374h6v5h-6zM345 374h6v5h-6zM351 374h7v5h-7zM358 374h6v5h-6zM364 374h6v5h-6zM376 374h6v5h-6zM382 374h7v5h-7zM389 374h6v5h-6zM295 379h7v6h-7zM302 379h6v6h-6zM308 379h6v6h-6zM314 379h6v6h-6zM320 379h6v6h-6zM382 379h7v6h-7zM389 379h6v6h-6zM395 379h6v6h-6zM295 385h7v5h-7zM302 385h6v5h-6zM308 385h6v5h-6zM314 385h6v5h-6zM320 385h6v5h-6zM326 385h7v5h-7zM333 385h6v5h-6zM339 385h6v5h-6zM389 385h6v5h-6zM395 385h6v5h-6zM401 385h6v5h-6zM320 390h6v5h-6zM326 390h7v5h-7zM333 390h6v5h-6zM339 390h6v5h-6zM395 390h6v5h-6zM401 390h6v5h-6zM407 390h6v5h-6zM320 395h6v5h-6zM326 395h7v5h-7zM333 395h6v5h-6zM339 395h6v5h-6zM407 395h6v5h-6zM413 395h7v5h-7zM333 400h6v5h-6zM339 400h6v5h-6zM413 400h7v5h-7zM420 400h6v5h-6zM333 405h6v5h-6zM339 405h6v5h-6zM420 405h6v5h-6z"/>
<path fill="#510096" d="M320 328h6v5h-6zM326 328h7v5h-7zM333 328h6v5h-6zM339 328h6v5h-6zM345 328h6v5h-6z"/>
<path fill="#53009d" d="M351 328h7v5h-7z"/>
<path fill="#500093" d="M134 333h6v5h-6zM140 333h6v5h-6zM146 333h7v5h-7zM153 333h6v5h-6zM159 333h6v5h-6zM165 333h6v5h-6zM171 333h6v5h-6zM177 333h7v5h-7zM184 333h6v5h-6zM128 338h6v5h-6zM190 338h6v5h-6zM109 343h6v5h-6zM115 343h6v5h-6zM121 343h7v5h-7zM103 348h6v6h-6zM97 354h6v5h-6zM90 359h7v5h-7zM75 364h3v5h-3zM78 364h6v5h-6zM84 364h6v5h-6zM519 374h5v5h-5zM426 379h6v6h-6zM513 379h6v6h-6zM432 385h6v5h-6zM438 385h6v5h-6zM444 385h7v5h-7zM494 385h6v5h-6zM500 385h7v5h-7zM507 385h6v5h-6zM457 390h6v5h-6zM488 390h6v5h-6zM469 395h7v5h-7zM476 395h6v5h-6zM482 395h6v5h-6z"/>
<path fill="#48007b" d="M134 343h6v5h-6zM140 343h6v5h-6zM146 343h7v5h-7zM134 348h6v6h-6zM109 354h6v5h-6zM115 354h6v5h-6zM121 354h7v5h-7zM128 354h6v5h-6zM134 354h6v5h-6zM103 359h6v5h-6zM97 364h6v5h-6zM84 369h6v5h-6zM75 374h3v5h-3zM519 385h5v5h-5zM432 390h6v5h-6zM513 390h6v5h-6zM444 395h7v5h-7zM451 395h6v5h-6zM457 395h6v5h-6zM494 395h6v5h-6zM500 395h7v5h-7zM507 395h6v5h-6zM463 400h6v5h-6zM494 400h6v5h-6zM469 405h7v5h-7zM476 405h6v5h-6zM482 405h6v5h-6zM488 405h6v5h-6zM494 405h6v5h-6z"/>
<path fill="#360046" d="M358 343h6v5h-6zM364 343h6v5h-6zM358 348h6v6h-6zM364 348h6v6h-6zM358 354h6v5h-6zM364 354h6v5h-6zM246 364h6v5h-6zM252 364h6v5h-6zM258 364h6v5h-6zM264 364h7v5h-7zM271 364h6v5h-6zM171 369h6v5h-6zM177 369h7v5h-7zM184 369h6v5h-6zM190 369h6v5h-6zM196 369h6v5h-6zM202 369h6v5h-6zM246 369h6v5h-6zM252 369h6v5h-6zM258 369h6v5h-6zM264 369h7v5h-7zM271 369h6v5h-6zM153 374h6v5h-6zM159 374h6v5h-6zM165 374h6v5h-6zM171 374h6v5h-6zM190 374h6v5h-6zM196 374h6v5h-6zM202 374h6v5h-6zM208 374h7v5h-7zM215 374h6v5h-6zM221 374h6v5h-6zM227 374h6v5h-6zM233 374h6v5h-6zM239 374h7v5h-7zM246 374h6v5h-6zM252 374h6v5h-6zM258 374h6v5h-6zM264 374h7v5h-7zM271 374h6v5h-6zM370 374h6v5h-6zM153 379h6v6h-6zM159 379h6v6h-6zM165 379h6v6h-6zM202 379h6v6h-6zM208 379h7v6h-7zM215 379h6v6h-6zM221 379h6v6h-6zM227 379h6v6h-6zM233 379h6v6h-6zM239 379h7v6h-7zM246 379h6v6h-6zM252 379h6v6h-6zM258 379h6v6h-6zM264 379h7v6h-7zM271 379h6v6h-6zM345 379h6v6h-6zM351 379h7v6h-7zM358 379h6v6h-6zM364 379h6v6h-6zM370 379h6v6h-6zM376 379h6v6h-6zM146 385h7v5h-7zM153 385h6v5h-6zM159 385h6v5h-6zM208 385h7v5h-7zM215 385h6v5h-6zM221 385h6v5h-6zM227 385h6v5h-6zM233 385h6v5h-6zM239 385h7v5h-7zM246 385h6v5h-6zM252 385h6v5h-6zM258 385h6v5h-6zM264 385h7v5h-7zM271 385h6v5h-6zM277 385h6v5h-6zM283 385h6v5h-6zM345 385h6v5h-6zM351 385h7v5h-7zM358 385h6v5h-6zM364 385h6v5h-6zM370 385h6v5h-6zM376 385h6v5h-6zM382 385h7v5h-7zM146 390h7v5h-7zM153 390h6v5h-6zM159 390h6v5h-6zM165 390h6v5h-6zM171 390h6v5h-6zM202 390h6v5h-6zM208 390h7v5h-7zM215 390h6v5h-6zM221 390h6v5h-6zM227 390h6v5h-6zM233 390h6v5h-6zM239 390h7v5h-7zM246 390h6v5h-6zM252 390h6v5h-6zM258 390h6v5h-6zM264 390h7v5h-7zM271 390h6v5h-6zM277 390h6v5h-6zM283 390h6v5h-6zM345 390h6v5h-6zM351 390h7v5h-7zM358 390h6v5h-6zM376 390h6v5h-6zM382 390h7v5h-7zM389 390h6v5h-6zM146 395h7v5h-7zM153 395h6v5h-6zM159 395h6v5h-6zM165 395h6v5h-6zM171 395h6v5h-6zM177 395h7v5h-7zM184 395h6v5h-6zM190 395h6v5h-6zM196 395h6v5h-6zM202 395h6v5h-6zM208 395h7v5h-7zM215 395h6v5h-6zM221 395h6v5h-6zM227 395h6v5h-6zM233 395h6v5h-6zM239 395h7v5h-7zM246 395h6v5h-6zM252 395h6v5h-6zM258 395h6v5h-6zM264 395h7v5h-7zM271 395h6v5h-6zM277 395h6v5h-6zM283 395h6v5h-6zM289 395h6v5h-6zM295 395h7v5h-7zM302 395h6v5h-6zM308 395h6v5h-6zM345 395h6v5h-6zM351 395h7v5h-7zM358 395h6v5h-6zM389 395h6v5h-6zM395 395h6v5h-6zM401 395h6v5h-6zM146 400h7v5h-7zM153 400h6v5h-6zM159 400h6v5h-6zM165 400h6v5h-6zM171 400h6v5h-6zM177 400h7v5h-7zM184 400h6v5h-6zM190 400h6v5h-6zM196 400h6v5h-6zM202 400h6v5h-6zM208 400h7v5h-7zM215 400h6v5h-6zM221 400h6v5h-6zM227 400h6v5h-6zM233 400h6v5h-6zM239 400h7v5h-7zM246 400h6v5h-6zM252 400h6v5h-6zM258 400h6v5h-6zM264 400h7v5h-7zM271 400h6v5h-6zM277 400h6v5h-6zM283 400h6v5h-6zM289 400h6v5h-6zM295 400h7v5h-7zM302 400h6v5h-6zM308 400h6v5h-6zM345 400h6v5h-6zM351 400h7v5h-7zM358 400h6v5h-6zM401 400h6v5h-6zM407 400h6v5h-6zM134 405h6v5h-6zM140 405h6v5h-6zM146 405h7v5h-7zM153 405h6v5h-6zM159 405h6v5h-6zM165 405h6v5h-6zM171 405h6v5h-6zM177 405h7v5h-7zM184 405h6v5h-6zM190 405h6v5h-6zM196 405h6v5h-6zM202 405h6v5h-6zM208 405h7v5h-7zM215 405h6v5h-6zM221 405h6v5h-6zM227 405h6v5h-6zM233 405h6v5h-6zM239 405h7v5h-7zM246 405h6v5h-6zM252 405h6v5h-6zM258 405h6v5h-6zM264 405h7v5h-7zM271 405h6v5h-6zM277 405h6v5h-6zM283 405h6v5h-6zM289 405h6v5h-6zM295 405h7v5h-7zM302 405h6v5h-6zM308 405h6v5h-6zM314 405h6v5h-6zM320 405h6v5h-6zM345 405h6v5h-6zM351 405h7v5h-7zM358 405h6v5h-6zM364 405h6v5h-6zM401 405h6v5h-6zM407 405h6v5h-6zM413 405h7v5h-7zM134 410h6v5h-6zM140 410h6v5h-6zM146 410h7v5h-7zM153 410h6v5h-6zM159 410h6v5h-6zM165 410h6v5h-6zM171 410h6v5h-6zM177 410h7v5h-7zM184 410h6v5h-6zM190 410h6v5h-6zM196 410h6v5h-6zM202 410h6v5h-6zM208 410h7v5h-7zM215 410h6v5h-6zM221 410h6v5h-6zM227 410h6v5h-6zM233 410h6v5h-6zM239 410h7v5h-7zM246 410h6v5h-6zM252 410h6v5h-6zM258 410h6v5h-6zM264 410h7v5h-7zM271 410h6v5h-6zM277 410h6v5h-6zM283 410h6v5h-6zM289 410h6v5h-6zM295 410h7v5h-7zM302 410h6v5h-6zM308 410h6v5h-6zM314 410h6v5h-6zM320 410h6v5h-6zM345 410h6v5h-6zM351 410h7v5h-7zM358 410h6v5h-6zM364 410h6v5h-6zM370 410h6v5h-6zM389 410h6v5h-6zM395 410h6v5h-6zM401 410h6v5h-6zM407 410h6v5h-6zM413 410h7v5h-7zM420 410h6v5h-6zM121 415h7v4h-7zM128 415h6v4h-6zM134 415h6v4h-6zM140 415h6v4h-6zM146 415h7v4h-7zM153 415h6v4h-6zM159 415h6v4h-6zM165 415h6v4h-6zM171 415h6v4h-6zM177 415h7v4h-7zM184 415h6v4h-6zM190 415h6v4h-6zM196 415h6v4h-6zM202 415h6v4h-6zM208 415h7v4h-7zM215 415h6v4h-6zM221 415h6v4h-6zM227 415h6v4h-6zM233 415h6v4h-6zM239 415h7v4h-7zM246 415h6v4h-6zM252 415h6v4h-6zM258 415h6v4h-6zM264 415h7v4h-7zM271 415h6v4h-6zM277 415h6v4h-6zM283 415h6v4h-6zM289 415h6v4h-6zM295 415h7v4h-7zM302 415h6v4h-6zM308 415h6v4h-6zM314 415h6v4h-6zM320 415h6v4h-6zM326 415h7v4h-7zM333 415h6v4h-6zM339 415h6v4h-6zM345 415h6v4h-6zM351 415h7v4h-7zM358 415h6v4h-6zM364 415h6v4h-6zM370 415h6v4h-6zM376 415h6v4h-6zM382 415h7v4h-7zM389 415h6v4h-6zM395 415h6v4h-6zM401 415h6v4h-6zM407 415h6v4h-6zM413 415h7v4h-7zM420 415h6v4h-6zM426 415h6v4h-6zM432 415h6v4h-6z"/>
<path fill="#4a0081" d="M128 348h6v6h-6zM78 369h6v5h-6zM438 390h6v5h-6zM488 400h6v5h-6z"/>
<path fill="#470076" d="M140 348h6v6h-6zM90 369h7v5h-7zM426 390h6v5h-6zM500 400h7v5h-7z"/>
<path fill="#450072" d="M146 348h7v6h-7zM140 354h6v5h-6zM109 359h6v5h-6zM115 359h6v5h-6zM121 359h7v5h-7zM128 359h6v5h-6zM134 359h6v5h-6zM103 364h6v5h-6zM97 369h6v5h-6zM78 374h6v5h-6zM75 379h3v6h-3zM519 390h5v5h-5zM438 395h6v5h-6zM513 395h6v5h-6zM457 400h6v5h-6zM507 400h6v5h-6zM463 405h6v5h-6zM500 405h7v5h-7zM469 410h7v5h-7zM476 410h6v5h-6zM482 410h6v5h-6zM488 410h6v5h-6zM494 410h6v5h-6z"/>
<path fill="#470077" d="M320 348h6v6h-6zM239 354h7v5h-7zM326 354h7v5h-7zM227 359h6v5h-6zM233 359h6v5h-6zM333 359h6v5h-6zM339 359h6v5h-6zM333 369h6v5h-6zM339 369h6v5h-6zM326 374h7v5h-7zM333 379h6v6h-6zM339 379h6v6h-6z"/>
<path fill="#4a007f" d="M326 348h7v6h-7z"/>
<path fill="#420069" d="M146 354h7v5h-7zM146 359h7v5h-7zM109 364h6v5h-6zM115 364h6v5h-6zM121 364h7v5h-7zM128 364h6v5h-6zM134 364h6v5h-6zM140 364h6v5h-6zM146 364h7v5h-7zM109 369h6v5h-6zM115 369h6v5h-6zM121 369h7v5h-7zM84 374h6v5h-6zM90 374h7v5h-7zM97 374h6v5h-6zM103 374h6v5h-6zM109 374h6v5h-6zM115 374h6v5h-6zM121 374h7v5h-7zM84 379h6v6h-6zM75 385h3v5h-3zM78 385h6v5h-6zM84 385h6v5h-6zM75 390h3v5h-3zM78 390h6v5h-6zM84 390h6v5h-6zM75 395h3v5h-3zM78 395h6v5h-6zM84 395h6v5h-6zM426 395h6v5h-6zM432 395h6v5h-6zM519 395h5v5h-5zM444 400h7v5h-7zM519 400h5v5h-5zM457 405h6v5h-6zM507 405h6v5h-6zM513 405h6v5h-6zM519 405h5v5h-5zM457 410h6v5h-6zM507 410h6v5h-6zM513 410h6v5h-6zM519 410h5v5h-5zM457 415h6v4h-6zM463 415h6v4h-6zM469 415h7v4h-7zM476 415h6v4h-6zM482 415h6v4h-6zM488 415h6v4h-6zM494 415h6v4h-6zM500 415h7v4h-7zM507 415h6v4h-6zM513 415h6v4h-6zM519 415h5v4h-5z"/>
<path fill="#44006e" d="M140 359h6v5h-6zM103 369h6v5h-6zM78 379h6v6h-6zM451 400h6v5h-6zM513 400h6v5h-6zM463 410h6v5h-6zM500 410h7v5h-7z"/>
<path fill="#3c0057" d="M246 359h6v5h-6zM252 359h6v5h-6zM258 359h6v5h-6zM264 359h7v5h-7zM271 359h6v5h-6zM171 364h6v5h-6zM177 364h7v5h-7zM184 364h6v5h-6zM239 364h7v5h-7zM277 364h6v5h-6zM153 369h6v5h-6zM159 369h6v5h-6zM165 369h6v5h-6zM227 369h6v5h-6zM233 369h6v5h-6zM277 369h6v5h-6zM134 374h6v5h-6zM140 374h6v5h-6zM146 374h7v5h-7zM277 374h6v5h-6zM134 379h6v6h-6zM283 379h6v6h-6zM97 385h6v5h-6zM103 385h6v5h-6zM109 385h6v5h-6zM115 385h6v5h-6zM121 385h7v5h-7zM128 385h6v5h-6zM134 385h6v5h-6zM289 385h6v5h-6zM97 390h6v5h-6zM103 390h6v5h-6zM109 390h6v5h-6zM115 390h6v5h-6zM121 390h7v5h-7zM128 390h6v5h-6zM134 390h6v5h-6zM295 390h7v5h-7zM302 390h6v5h-6zM308 390h6v5h-6zM97 395h6v5h-6zM103 395h6v5h-6zM109 395h6v5h-6zM115 395h6v5h-6zM121 395h7v5h-7zM128 395h6v5h-6zM134 395h6v5h-6zM314 395h6v5h-6zM97 400h6v5h-6zM103 400h6v5h-6zM109 400h6v5h-6zM115 400h6v5h-6zM121 400h7v5h-7zM320 400h6v5h-6zM75 405h3v5h-3zM78 405h6v5h-6zM84 405h6v5h-6zM90 405h7v5h-7zM97 405h6v5h-6zM103 405h6v5h-6zM109 405h6v5h-6zM115 405h6v5h-6zM121 405h7v5h-7zM326 405h7v5h-7zM432 405h6v5h-6zM438 405h6v5h-6zM444 405h7v5h-7zM75 410h3v5h-3zM78 410h6v5h-6zM84 410h6v5h-6zM90 410h7v5h-7zM97 410h6v5h-6zM103 410h6v5h-6zM109 410h6v5h-6zM333 410h6v5h-6zM339 410h6v5h-6zM444 410h7v5h-7zM75 415h3v4h-3zM78 415h6v4h-6zM84 415h6v4h-6zM90 415h7v4h-7zM97 415h6v4h-6zM103 415h6v4h-6zM109 415h6v4h-6zM444 415h7v4h-7z"/>
<path fill="#3f005f" d="M277 359h6v5h-6zM289 379h6v6h-6zM314 390h6v5h-6zM326 400h7v5h-7z"/>
<path fill="#440070" d="M326 359h7v5h-7zM326 369h7v5h-7zM326 379h7v6h-7z"/>
<path fill="#410065" d="M128 369h6v5h-6zM90 379h7v6h-7zM438 400h6v5h-6z"/>
<path fill="#3f0060" d="M134 369h6v5h-6zM140 369h6v5h-6zM146 369h7v5h-7zM128 374h6v5h-6zM97 379h6v6h-6zM103 379h6v6h-6zM109 379h6v6h-6zM115 379h6v6h-6zM121 379h7v6h-7zM90 385h7v5h-7zM90 390h7v5h-7zM90 395h7v5h-7zM75 400h3v5h-3zM78 400h6v5h-6zM84 400h6v5h-6zM432 400h6v5h-6zM451 405h6v5h-6zM451 410h6v5h-6zM451 415h6v4h-6z"/>
<path fill="#39004f" d="M239 369h7v5h-7zM146 379h7v6h-7zM277 379h6v6h-6zM140 385h6v5h-6zM140 390h6v5h-6zM289 390h6v5h-6zM140 395h6v5h-6zM134 400h6v5h-6zM314 400h6v5h-6zM128 405h6v5h-6zM426 405h6v5h-6zM121 410h7v5h-7zM326 410h7v5h-7zM432 410h6v5h-6zM115 415h6v4h-6zM438 415h6v4h-6z"/>
<path fill="#2f0035" d="M177 374h7v5h-7zM184 374h6v5h-6zM171 379h6v6h-6zM177 379h7v6h-7zM184 379h6v6h-6zM190 379h6v6h-6zM196 379h6v6h-6zM165 385h6v5h-6zM171 385h6v5h-6zM177 385h7v5h-7zM184 385h6v5h-6zM190 385h6v5h-6zM196 385h6v5h-6zM202 385h6v5h-6zM177 390h7v5h-7zM184 390h6v5h-6zM190 390h6v5h-6zM196 390h6v5h-6z"/>
<path fill="#3e005c" d="M128 379h6v6h-6zM90 400h7v5h-7zM426 400h6v5h-6z"/>
<path fill="#3b0053" d="M140 379h6v6h-6zM128 400h6v5h-6zM115 410h6v5h-6zM438 410h6v5h-6z"/>
<path fill="#260023" d="M364 390h6v5h-6zM370 390h6v5h-6zM364 395h6v5h-6zM370 395h6v5h-6zM376 395h6v5h-6zM382 395h7v5h-7zM364 400h6v5h-6zM370 400h6v5h-6zM376 400h6v5h-6zM382 400h7v5h-7zM389 400h6v5h-6zM395 400h6v5h-6zM370 405h6v5h-6zM376 405h6v5h-6zM382 405h7v5h-7zM389 405h6v5h-6zM395 405h6v5h-6zM376 410h6v5h-6zM382 410h7v5h-7z"/>
<path fill="#4e008d" d="M451 390h6v5h-6z"/>
<path fill="#510098" d="M463 390h6v5h-6z"/>
<path fill="#37004a" d="M140 400h6v5h-6zM128 410h6v5h-6zM426 410h6v5h-6z"/>
</g>
<g fill="none" stroke="#0088ff" stroke-width="1" shape-rendering="crispEdges">
<path d="M137.0 93.3 140.7 92.8 144.5 94.3 148.2 93.7 153.2 95.7 156.9 96.8 161.9 97.4 165.6 96.1 173.0 97.8 176.8 97.4 179.2 98.8 181.1 95.3 184.2 96.3 186.7 96.8 189.2 98.6 191.7 96.3 196.6 99.4 197.9 101.5 191.7 104.6 190.4 105.4 186.7 106.7 183.0 110.2 181.1 113.9 181.4 116.6 184.2 120.1 189.2 121.5 192.9 123.8 196.3 124.0 196.6 128.3 198.5 131.8 200.0 130.8 200.4 125.2 202.9 123.2 203.5 121.1 202.9 117.0 201.6 112.2 202.2 109.1 206.6 109.1 210.3 111.6 212.2 115.9 214.7 117.4 217.8 114.3 219.0 116.3 221.5 119.4 222.7 122.3 225.2 123.8 227.1 125.2 229.3 129.5 227.7 131.4 224.0 134.1 219.0 133.9 215.9 136.1 218.4 136.8 218.0 139.6 222.7 142.7 224.0 143.2 220.2 145.4 216.8 147.5 215.9 144.8 214.7 145.8 M194.5 214.9 196.6 218.4 198.5 218.6 200.4 218.0 202.5 219.9 204.1 218.0 204.7 215.5 206.6 214.3 209.1 212.2 209.7 214.9 210.3 215.9 211.5 212.8 214.0 215.9 219.0 215.9 221.5 215.5 222.7 219.0 224.6 221.1 226.5 223.6 230.2 225.4 233.9 227.3 235.8 233.9 236.8 237.6 238.9 239.2 242.6 240.7 246.3 243.4 250.1 245.4 252.5 247.9 254.7 250.0 255.3 254.1 254.8 257.2 252.5 260.3 250.3 265.4 250.1 273.7 248.8 278.8 247.6 283.0 245.1 285.0 242.6 286.5 239.5 289.1 238.1 295.3 236.4 299.5 233.9 306.7 228.9 312.9 224.3 318.0 220.2 323.2 216.5 328.9 213.4 338.4 211.9 347.7 217.3 351.6 212.7 349.4 208.7 344.6 207.2 341.5 207.4 330.4 208.1 320.1 209.4 308.7 209.7 297.4 210.9 289.1 211.2 278.8 210.9 275.3 208.4 272.2 204.1 266.5 202.2 261.3 200.4 255.1 197.9 250.0 197.5 246.5 199.1 243.8 198.5 239.7 199.1 236.6 200.4 234.5 201.6 232.4 202.5 229.3 202.2 225.2 201.6 222.1 199.1 222.5 197.9 221.1 194.8 220.1 192.0 217.0 191.9 214.9 M148.7 166.2 147.1 162.1 146.3 159.6 144.7 155.5 144.0 154.1 144.3 151.0 143.7 148.9 144.5 142.7 143.6 137.8 M207.8 75.7 214.0 71.6 221.5 68.9 230.2 67.9 242.6 67.1 255.0 65.4 267.5 66.0 273.7 68.5 283.6 69.5 276.1 73.7 274.9 78.8 271.2 82.9 273.7 87.1 271.2 91.2 266.2 96.3 258.8 97.4 252.5 102.5 248.8 104.2 246.3 108.7 243.8 113.9 241.4 112.2 238.3 110.8 235.8 106.7 233.9 102.5 232.0 99.4 235.2 94.3 230.8 92.2 229.6 88.1 226.5 81.9 221.5 80.5 215.3 80.3 210.3 78.8 207.8 75.7 M310.9 105.6 314.0 101.7 315.9 98.4 319.0 96.3 322.1 93.7 327.1 92.2 330.8 91.2 333.9 91.6 337.0 93.3 339.5 94.7 343.2 95.3 349.4 98.4 348.2 101.5 344.5 101.9 342.0 103.6 343.9 104.6 345.7 105.6 348.2 104.6 350.7 100.9 353.2 101.5 353.2 96.8 355.7 97.4 358.1 98.2 364.4 96.3 370.6 96.3 373.0 95.3 379.3 94.3 383.0 96.3 383.0 92.2 381.5 91.2 384.0 88.1 385.5 87.1 388.0 87.5 388.0 91.2 389.8 96.3 389.2 99.4 391.7 99.4 394.2 96.3 392.9 90.8 395.4 88.5 400.4 89.5 398.8 86.0 406.6 85.0 405.3 82.9 410.3 81.9 416.5 80.9 422.7 79.8 427.7 77.4 432.7 79.4 437.6 79.8 438.9 81.9 435.2 85.0 438.9 86.0 445.1 86.0 452.6 87.1 456.3 90.2 460.0 91.2 461.9 91.6 466.2 90.2 472.4 88.1 478.6 88.5 484.9 90.2 488.6 91.2 493.5 91.2 497.3 93.3 503.5 93.9 509.7 93.3 515.9 93.7 519.6 94.7 522.1 95.3 M522.1 103.6 519.6 104.6 518.4 108.7 514.0 110.8 509.7 113.9 504.7 113.9 502.2 114.1 499.8 118.0 501.0 121.1 499.8 124.2 497.3 127.3 495.4 130.4 492.9 132.4 492.3 128.3 491.7 122.1 492.9 119.0 494.8 118.0 499.1 112.8 501.6 109.7 497.3 110.8 492.3 110.8 489.8 114.9 486.1 115.3 482.4 115.3 478.6 115.3 474.9 115.9 472.4 119.0 468.7 125.2 466.8 126.2 469.9 126.7 473.1 130.4 473.1 137.6 M416.5 73.7 422.7 74.7 428.9 75.7 426.5 72.6 419.0 70.6 416.5 73.7 M468.7 82.9 474.9 86.0 482.4 82.3 472.4 80.9 468.7 82.9 M268.7 102.5 271.2 105.6 276.1 106.9 281.1 104.6 281.7 102.5 279.9 100.7 276.1 101.1 271.2 100.7 268.7 102.5 M282.4 180.9 279.9 187.1 277.4 194.3 278.0 198.4 278.0 204.6 276.8 207.3 277.6 211.8 279.9 214.9 281.7 218.0 283.6 222.1 286.7 226.3 289.2 228.7 293.5 226.9 296.6 227.3 299.8 225.6 302.2 224.6 304.7 226.3 306.0 228.7 307.8 228.3 309.7 229.3 310.6 232.4 310.3 237.6 309.7 242.7 312.2 245.4 313.4 248.9 314.7 255.1 315.3 260.3 313.4 267.5 313.2 272.6 314.7 278.8 316.5 284.0 317.1 292.2 319.0 296.8 320.2 302.5 321.2 306.7 321.5 308.7 323.4 309.4 326.5 307.7 330.2 307.7 332.1 306.7 334.5 303.6"/><path d="M76.8 399.3 96.5 399.3 103.1 398.4 M96.5 399.3 99.3 401.9 M76.8 412.3 87.1 413.2 105.9 414.1 115.3 414.3 111.5 409.1 108.7 403.4 110.6 397.8 117.1 395.0 126.5 393.5 134.0 391.6 141.5 389.9 149.0 389.7 156.5 390.9 161.2 393.1 165.9 392.2 171.5 391.3 175.3 388.8 179.0 388.4 186.5 389.4 197.5 388.8 204.1 387.4 209.7 389.3 M209.0 388.0 207.0 385.0 213.5 380.3 213.4 386.5 M216.0 380.0 220.0 372.0 224.7 369.1 226.6 371.9 223.8 377.5 223.4 383.1 223.4 392.5 M196.6 397.2 208.8 394.8 221.9 392.9 223.4 392.5 233.1 396.6 242.5 398.5 256.6 398.1 259.4 395.9 270.6 390.6 281.9 385.9 291.3 382.8 298.8 380.3 304.4 382.2 307.5 382.8 324.4 383.5 333.8 383.1 339.4 380.7 345.9 382.2 351.6 378.4 356.3 376.6 364.7 374.3 371.3 376.0 382.5 378.4 386.3 381.3 388.1 379.4 395.6 380.9 405.0 375.3 421.3 374.3 439.1 374.3 444.7 376.2 454.1 374.3 468.1 374.3 475.6 376.2 485.0 379.0 494.4 380.9 503.8 383.1 511.3 386.5 505.6 392.5 501.9 400.0 506.6 408.4 516.9 410.3 M196.6 397.2 205.0 402.8 227.5 407.1 242.5 406.0 257.5 403.8 260.3 402.8 256.6 398.1 M220.0 403.8 233.1 399.6 244.4 402.8 227.5 404.1 M259.4 397.2 272.5 389.7 283.8 385.0 296.9 381.3 M300.0 385.0 324.4 384.6 333.8 384.3 M502.8 398.5 513.1 397.8 522.5 399.4"/><path d="M187.5 71.0 190.0 70.0 195.0 69.8 200.0 68.5 205.0 67.2 210.0 67.5 215.0 67.8 220.0 68.5 M191.2 71.9 198.8 72.2 203.8 72.8 200.0 74.4 195.0 74.8 192.5 76.9 195.0 77.5 202.5 77.5 207.5 75.0 212.5 74.4 215.0 72.5 220.0 71.9 M211.2 78.1 215.0 76.9 220.0 76.2 M212.5 78.8 215.0 81.2 220.0 81.9 M185.0 81.2 190.0 80.6 195.0 80.6 198.8 81.9 193.8 83.1 186.2 82.5 182.5 81.2 M170.0 75.6 173.8 77.5 176.2 81.2 175.0 83.8 171.2 81.2 M148.1 81.2 152.5 80.0 155.6 79.4 M155.6 81.9 158.8 82.5 160.6 81.2 163.8 80.6 166.2 82.5 167.5 84.4 162.5 85.0 156.2 83.8 M159.4 78.1 163.8 77.5 M146.2 86.2 149.4 85.6 151.2 88.8 153.8 89.4 165.0 89.4 168.8 90.0 173.8 95.6 170.0 97.5 165.0 97.5 157.5 96.2 155.0 90.6 M173.1 87.5 175.6 86.2 177.5 88.8 176.9 92.5 173.8 89.4 M181.2 88.1 183.8 86.2 185.0 88.1 182.5 88.8 M188.1 91.2 192.5 86.9 193.8 85.6 197.5 87.5 205.0 89.4 210.0 91.9 215.0 96.2 220.0 98.8 M187.5 93.8 191.2 98.1 195.0 98.1 197.5 95.0 201.2 94.4 206.2 96.9 211.2 100.0 215.0 102.5 220.0 102.5 M180.0 106.2 186.2 106.2 196.2 101.2 197.5 97.5 M145.0 101.2 147.5 103.8 152.5 101.9 M149.4 106.2 153.8 109.4 160.0 109.8 163.1 109.4 158.8 112.5 151.2 112.5 M193.8 103.8 195.0 108.8 198.8 108.1 196.9 105.0 M203.8 106.2 210.0 102.5 215.0 103.8 220.0 105.0 M202.5 111.2 210.0 112.5 215.0 117.5 220.0 117.5 M158.8 117.5 163.8 116.2 170.0 117.5 172.5 120.0 173.1 123.8 177.5 120.0 M229.4 130.0 225.0 133.8 220.0 136.2 215.6 137.5 211.2 140.6 206.2 143.1 201.2 146.9 197.5 150.0 195.0 146.2 191.2 141.9 186.9 138.1 M227.5 132.5 228.1 137.5 227.5 141.2 232.5 143.1 231.2 136.9 229.4 132.5 M215.0 138.8 222.5 140.0 218.8 142.5 216.2 143.8 M175.0 128.1 177.5 126.9 178.1 135.0 175.6 131.2 M180.6 137.5 184.4 134.4 M160.0 117.5 165.0 116.2 172.5 118.1 173.1 123.1 177.5 120.0 M193.8 103.8 195.6 108.8 197.5 109.4 M203.8 105.6 210.0 103.8 215.0 102.5 221.2 100.6 M211.2 107.5 218.8 109.4 221.2 105.0 M190.0 72.0 197.5 72.6 203.8 72.6 M192.5 75.8 200.0 74.5 M191.2 77.0 197.5 78.2 M190.0 80.8 197.5 82.0 200.0 83.9 190.0 85.8 M192.5 89.5 205.0 89.5 215.0 94.5 220.0 99.5 221.2 104.5 218.8 103.2 215.6 102.6 218.8 108.2 211.2 109.5 205.0 107.0 211.2 100.1 202.5 94.5 195.0 95.8 191.2 98.2 M193.8 103.2 196.2 108.2 198.8 106.4 M202.5 112.0 210.0 112.0 212.5 115.8 M472.8 135.0 472.1 141.2 466.5 147.5 461.5 152.5 460.2 157.5 456.5 165.0 455.2 158.1 450.2 155.0 445.9 158.8 449.0 161.9 449.6 167.5 450.2 176.2 448.4 185.0 451.5 186.2 445.2 188.1 440.2 192.5 434.6 193.8 434.0 198.8 433.4 208.8 432.8 216.9 429.6 216.9 424.0 210.6 422.8 211.9 424.0 221.2 427.1 232.5 424.6 227.5 422.1 221.2 420.2 206.2 411.5 193.8 404.0 202.5 M476.5 135.0 477.8 150.0 474.6 151.9 473.4 156.9 469.6 161.2 465.2 165.0 469.0 167.2 473.4 165.0 475.2 161.2 475.9 153.8 478.8 150.6 477.1 146.9 475.9 140.0 475.9 135.0 M474.0 135.0 474.0 138.8 475.9 144.4 M460.2 170.6 463.4 168.1 462.8 173.1 460.2 170.6 M434.0 198.8 437.1 196.9 M417.1 226.2 430.9 244.4 425.2 244.4 417.1 226.2 M445.2 224.4 446.5 231.2 441.5 245.0 435.9 240.0 445.2 224.4 M449.0 201.2 451.5 200.6 452.1 209.4 449.6 210.0 449.0 201.2 M455.2 218.1 451.5 224.4 455.2 225.6 455.2 218.1 M462.2 241.3 463.8 243.2 475.9 243.2 486.3 259.4 475.9 255.0 472.6 253.4 463.8 244.1 462.2 241.3 M337.5 145.0 348.8 142.5 348.8 151.2 347.5 155.0 336.9 155.0 333.8 157.0 336.2 150.0 337.5 145.0 M328.8 156.9 325.0 160.0 M333.1 156.9 333.1 160.0 337.5 164.4 343.8 166.2 340.6 173.8 339.4 176.2 343.8 187.5 347.5 195.0 M325.0 172.5 330.0 172.5 337.5 175.0 339.4 176.2 M341.2 177.5 345.0 185.0 348.8 195.0 M361.2 143.8 364.4 142.5 363.8 150.0 366.2 160.0 361.2 158.8 359.4 147.5 361.2 143.8 M373.1 144.4 376.2 143.8 374.4 149.4 373.1 144.4 M391.2 147.5 398.8 143.1 M361.2 178.1 363.8 182.5 367.5 186.2 375.0 188.1 380.0 188.8 386.9 194.4 M342.5 185.0 346.9 201.2 351.9 215.0 357.5 215.0 363.1 214.4 361.9 221.2 355.0 235.0 351.2 245.0 M345.6 185.0 348.8 197.5 352.5 208.8 358.1 211.2 365.0 206.2 371.2 198.8 372.5 192.5 366.2 188.8 362.5 185.0 M366.2 185.0 370.0 187.5 380.0 188.1 388.8 196.9 390.0 203.8 393.8 219.4 400.0 210.0 401.2 205.0 405.0 201.2 M399.4 220.6 398.1 226.2 M340.6 238.8 341.2 243.8 M291.7 118.1 295.0 120.0 297.8 125.6 301.1 132.6 300.1 134.1 295.0 135.5 M290.3 120.9 292.2 124.7 287.5 128.4 288.9 132.2 M294.1 124.7 293.6 128.4 296.9 132.2 295.5 135.0 M291.7 149.1 296.9 145.3 297.8 142.5 295.0 138.3 299.7 137.3 303.4 134.1 308.1 128.0 310.0 123.7 312.8 124.2 315.1 128.4 318.4 127.5 321.2 126.6 326.9 122.8 332.5 119.1 335.3 116.7 329.7 116.2 326.9 112.5 326.9 107.8 328.3 105.5 M314.7 105.0 308.1 111.6 306.2 116.2 310.0 119.5 313.7 119.1 318.4 123.7 321.2 119.1 323.1 115.3 323.1 108.8 327.8 105.5 M295.0 138.0 298.3 144.6 292.2 148.3 289.4 153.9 288.9 158.6 291.2 163.3 296.9 162.4 302.5 153.0 309.1 149.2 313.7 151.1 318.4 155.8 322.2 157.7 326.9 162.4 328.7 161.4 328.7 156.7 332.5 155.8 336.2 145.5 340.0 145.0 M317.5 147.4 322.2 153.0 323.1 157.7 319.4 155.3 317.5 147.4 M310.0 154.4 310.9 156.3 M316.1 160.5 318.4 160.5 M282.8 183.0 286.6 175.5 292.2 165.2 301.6 164.2 308.1 162.8 312.3 162.8 313.7 169.9 319.4 173.6 324.1 176.4 328.7 172.7 332.5 173.6 340.0 175.5 M101.2 193.0 103.5 194.8 104.5 195.5 105.4 197.2 M185.0 238.5 185.5 239.0 M479.4 322.5 483.1 325.6 480.6 326.2 479.4 322.5 M514.4 308.1 517.0 313.0 519.4 319.4 516.9 315.0 514.4 308.1 M514.4 321.2 513.1 325.0 510.6 328.8 M503.1 278.8 503.5 280.6 M521.2 272.5 523.1 271.9 M353.1 240.0 348.8 252.5 349.4 265.0 345.0 280.0 338.1 299.4 336.0 301.0 M351.2 245.0 353.1 240.0 M360.6 264.4 360.0 278.8 354.4 290.6 354.4 278.1 360.6 264.4 M366.4 93.4 375.0 86.0 384.5 79.7 383.0 81.2 375.0 85.5 367.9 88.8 366.4 93.4 M315.2 75.6 320.6 74.8 334.7 74.4 M317.5 77.2 320.6 81.1 326.9 78.0 330.0 79.5 M353.4 73.3 358.0 74.5 362.8 74.8 M146.5 138.8 142.1 132.5 136.5 126.2 132.8 118.8 126.5 115.6 121.5 114.4 114.0 113.8 110.2 115.0 105.9 120.0 102.8 121.9 97.8 125.0 100.9 119.4 96.5 117.5 94.0 113.8 94.0 108.8 99.0 105.6 94.0 104.4 90.2 103.1 97.8 101.9 92.1 98.8 92.8 96.9 99.0 93.8 105.2 92.5 115.2 93.1 126.5 95.6 135.2 95.0 139.5 93.6 M77.8 132.5 79.0 132.2 M82.1 131.2 82.6 131.0 M87.1 130.0 87.6 129.6 M90.9 127.5 91.4 127.0 M76.5 97.5 85.9 101.2 82.8 105.0 76.5 103.1 75.2 104.4 M215.6 140.0 213.3 146.2 210.9 152.5 204.7 160.3 203.1 163.4 199.2 172.8 199.2 183.0 195.3 179.1 189.8 176.7 182.8 178.3 178.9 181.4 178.1 186.9 178.1 195.5 185.2 199.4 190.6 195.5 189.1 202.5 190.6 205.6 195.3 211.9 196.1 215.0 M150.0 165.0 156.2 175.9 165.6 190.0 173.4 202.5 182.8 207.2 193.8 211.9 M157.0 175.9 162.5 186.9 160.9 188.4 156.2 177.5 M195.3 193.9 201.6 194.7 207.8 197.8 M206.2 200.9 212.5 199.4 M203.1 187.7 203.6 188.2 M216.4 201.2 216.9 201.7 M202.3 203.3 202.8 203.6 M185.9 142.3 192.2 143.1 196.9 150.2 206.2 146.2 214.1 143.1 220.3 146.2 223.4 143.9 232.8 143.1 M432.2 251.4 436.0 252.5 440.6 254.2 M226.2 344.5 226.7 344.9 M216.2 378.1 222.5 373.1 225.0 371.2 M218.1 378.8 222.5 382.5 M464.2 261.3 458.3 269.2 453.3 270.0 451.7 275.0 442.5 281.7 441.3 293.3 443.3 305.8 450.8 307.5 461.7 302.5 473.3 315.0 479.2 317.5 486.7 309.2 489.2 293.3 485.8 283.3 476.7 260.3 471.7 271.7 464.2 261.3"/>
</g>
<g shape-rendering="crispEdges">
<path fill="none" stroke="#000" stroke-width="1" d="M74.5 57.5H524.5V419.5H74.5Z"/>
<rect x="536" y="58" width="21" height="361" fill="url(#cb)"/>
<path fill="none" stroke="#000" stroke-width="1" d="M535.5 57.5H557.5V419.5H535.5Z"/>
</g>
<g stroke="#000" stroke-width="1" shape-rendering="crispEdges">
<path d="M536 387.5h4M553 387.5h4"/><path d="M536 347.5h4M553 347.5h4"/><path d="M536 307.5h4M553 307.5h4"/><path d="M536 266.5h4M553 266.5h4"/><path d="M536 226.5h4M553 226.5h4"/><path d="M536 186.5h4M553 186.5h4"/><path d="M536 146.5h4M553 146.5h4"/><path d="M536 106.5h4M553 106.5h4"/><path d="M536 66.5h4M553 66.5h4"/>
</g>
<g text-anchor="start">
<text x="571.5" y="391.3">5</text><text x="571.5" y="351.3">10</text><text x="571.5" y="311.3">15</text><text x="571.5" y="270.3">20</text><text x="571.5" y="230.3">25</text><text x="571.5" y="190.3">30</text><text x="571.5" y="150.3">35</text><text x="571.5" y="110.3">40</text><text x="571.5" y="70.3">45</text>
</g>
</svg>
</body></html>
